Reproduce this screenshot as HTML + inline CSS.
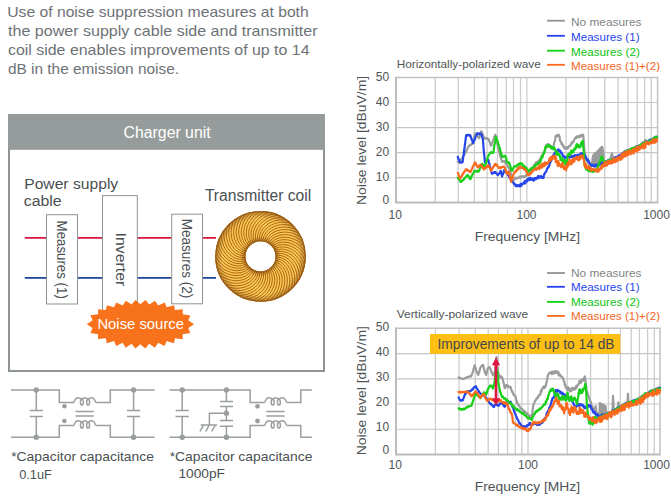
<!DOCTYPE html>
<html><head><meta charset="utf-8"><style>
html,body{margin:0;padding:0;background:#fff;}
body{width:671px;height:504px;overflow:hidden;position:relative;font-family:"Liberation Sans",sans-serif;}
svg text{font-family:"Liberation Sans",sans-serif;}
</style></head><body>
<svg width="671" height="504" viewBox="0 0 671 504" style="position:absolute;left:0;top:0">
<text x="7.3" y="16.8" font-size="15" fill="#6e7276" textLength="301.40000000000003" lengthAdjust="spacingAndGlyphs" >Use of noise suppression measures at both</text>
<text x="8" y="35.8" font-size="15" fill="#6e7276" textLength="309.6" lengthAdjust="spacingAndGlyphs" >the power supply cable side and transmitter</text>
<text x="8" y="54.5" font-size="15" fill="#6e7276" textLength="301.5" lengthAdjust="spacingAndGlyphs" >coil side enables improvements of up to 14</text>
<text x="8" y="73.5" font-size="15" fill="#6e7276" textLength="171" lengthAdjust="spacingAndGlyphs" >dB in the emission noise.</text>
<rect x="9" y="115" width="315" height="256" fill="#fff" stroke="#8f9594" stroke-width="2"/>
<rect x="8" y="114" width="317" height="35.8" fill="#969c9b"/>
<text x="123.6" y="137.5" font-size="16" fill="#ffffff" textLength="87" lengthAdjust="spacingAndGlyphs" >Charger unit</text>
<line x1="24.8" y1="237.9" x2="216" y2="237.9" stroke="#d8163c" stroke-width="1.8"/>
<line x1="24.8" y1="277.9" x2="216" y2="277.9" stroke="#1b449e" stroke-width="1.8"/>
<rect x="46.5" y="214.7" width="31" height="89.3" fill="#fff" stroke="#8e9393" stroke-width="1"/>
<rect x="102.5" y="195.6" width="34.8" height="125" fill="#fff" stroke="#8e9393" stroke-width="1"/>
<rect x="171.7" y="214.2" width="30.8" height="89.6" fill="#fff" stroke="#8e9393" stroke-width="1"/>
<text transform="translate(56.9 220.6) rotate(90)" font-size="14" fill="#4a5052" textLength="78.2" lengthAdjust="spacingAndGlyphs">Measures (1)</text>
<text transform="translate(115.6 232.6) rotate(90)" font-size="15" fill="#4a5052" textLength="53.6" lengthAdjust="spacingAndGlyphs">Inverter</text>
<text transform="translate(182.2 218.7) rotate(90)" font-size="14.5" fill="#4a5052" textLength="79.5" lengthAdjust="spacingAndGlyphs">Measures (2)</text>
<text x="24.2" y="188.5" font-size="15.5" fill="#4a5052" textLength="94" lengthAdjust="spacingAndGlyphs" >Power supply</text>
<text x="23.7" y="205.7" font-size="15.5" fill="#4a5052" textLength="38" lengthAdjust="spacingAndGlyphs" >cable</text>
<text x="204.9" y="200.8" font-size="16" fill="#4a5052" textLength="106.4" lengthAdjust="spacingAndGlyphs" >Transmitter coil</text>
<circle cx="260.5" cy="256.4" r="30.2" fill="none" stroke="#f7ca58" stroke-width="30.199999999999996"/>
<clipPath id="ring"><path d="M215.2,256.4 a45.3,45.3 0 1,0 90.6,0 a45.3,45.3 0 1,0 -90.6,0 Z M245.4,256.4 a15.1,15.1 0 1,1 30.2,0 a15.1,15.1 0 1,1 -30.2,0 Z" clip-rule="evenodd" fill-rule="evenodd"/></clipPath>
<g clip-path="url(#ring)">
<polyline points="274.10,256.40 281.53,257.80 285.21,259.71 287.99,261.97 290.19,264.51 291.90,267.27 293.20,270.23 294.10,273.33 294.63,276.55 294.78,279.85 294.58,283.21 294.02,286.60 293.11,289.97" fill="none" stroke="#b0620e" stroke-width="1.0"/>
<polyline points="274.03,257.82 281.27,259.99 284.73,262.28 287.26,264.82 289.18,267.57 290.60,270.50 291.58,273.57 292.15,276.75 292.33,280.01 292.14,283.31 291.59,286.63 290.68,289.93 289.42,293.20" fill="none" stroke="#b0620e" stroke-width="1.0"/>
<polyline points="273.80,259.23 280.78,262.15 283.98,264.78 286.23,267.57 287.85,270.50 288.96,273.57 289.61,276.72 289.85,279.95 289.69,283.20 289.16,286.47 288.26,289.71 287.00,292.90 285.41,296.02" fill="none" stroke="#b0620e" stroke-width="1.0"/>
<polyline points="273.43,260.60 280.07,264.23 282.98,267.19 284.92,270.20 286.23,273.29 287.01,276.45 287.33,279.65 287.23,282.88 286.73,286.11 285.86,289.30 284.62,292.43 283.04,295.47 281.14,298.40" fill="none" stroke="#b0620e" stroke-width="1.0"/>
<polyline points="272.92,261.93 279.14,266.24 281.72,269.48 283.35,272.67 284.32,275.88 284.77,279.11 284.75,282.33 284.31,285.53 283.48,288.69 282.28,291.77 280.72,294.75 278.84,297.62 276.63,300.33" fill="none" stroke="#b0620e" stroke-width="1.0"/>
<polyline points="272.28,263.20 278.01,268.13 280.24,271.62 281.52,274.97 282.15,278.27 282.26,281.52 281.91,284.72 281.14,287.86 279.98,290.91 278.46,293.85 276.60,296.66 274.43,299.31 271.95,301.78" fill="none" stroke="#b0620e" stroke-width="1.0"/>
<polyline points="271.50,264.39 276.69,269.90 278.54,273.60 279.47,277.07 279.75,280.41 279.52,283.66 278.83,286.81 277.74,289.85 276.27,292.76 274.45,295.52 272.31,298.12 269.87,300.53 267.15,302.73" fill="none" stroke="#b0620e" stroke-width="1.0"/>
<polyline points="270.61,265.50 275.19,271.51 276.64,275.40 277.20,278.94 277.13,282.29 276.56,285.49 275.55,288.56 274.14,291.47 272.38,294.21 270.28,296.77 267.88,299.13 265.20,301.27 262.27,303.17" fill="none" stroke="#b0620e" stroke-width="1.0"/>
<polyline points="269.60,266.51 273.53,272.97 274.57,276.98 274.75,280.56 274.34,283.89 273.43,287.01 272.11,289.95 270.40,292.70 268.36,295.24 266.01,297.57 263.38,299.66 260.49,301.51 257.37,303.10" fill="none" stroke="#b0620e" stroke-width="1.0"/>
<polyline points="268.49,267.40 271.72,274.24 272.34,278.34 272.15,281.92 271.39,285.18 270.16,288.20 268.54,290.98 266.56,293.54 264.26,295.85 261.68,297.92 258.84,299.73 255.77,301.26 252.50,302.51" fill="none" stroke="#b0620e" stroke-width="1.0"/>
<polyline points="267.30,268.18 269.80,275.31 269.98,279.46 269.42,283.00 268.32,286.16 266.79,289.03 264.88,291.63 262.64,293.97 260.11,296.03 257.33,297.82 254.32,299.32 251.11,300.52 247.73,301.42" fill="none" stroke="#b0620e" stroke-width="1.0"/>
<polyline points="266.03,268.82 267.77,276.18 267.52,280.32 266.59,283.78 265.17,286.82 263.34,289.51 261.17,291.90 258.70,293.98 255.97,295.77 253.02,297.26 249.87,298.44 246.55,299.30 243.09,299.84" fill="none" stroke="#b0620e" stroke-width="1.0"/>
<polyline points="264.70,269.33 265.66,276.83 264.98,280.92 263.70,284.27 261.96,287.14 259.86,289.63 257.46,291.77 254.78,293.59 251.88,295.08 248.79,296.25 245.53,297.09 242.14,297.61 238.65,297.78" fill="none" stroke="#b0620e" stroke-width="1.0"/>
<polyline points="263.33,269.70 263.50,277.26 262.40,281.26 260.76,284.45 258.74,287.12 256.39,289.38 253.78,291.26 250.93,292.79 247.89,293.97 244.69,294.81 241.36,295.31 237.93,295.46 234.44,295.27" fill="none" stroke="#b0620e" stroke-width="1.0"/>
<polyline points="261.92,269.93 261.30,277.46 259.79,281.32 257.83,284.32 255.54,286.77 252.97,288.77 250.17,290.37 247.18,291.59 244.03,292.45 240.76,292.95 237.40,293.09 233.97,292.89 230.52,292.34" fill="none" stroke="#b0620e" stroke-width="1.0"/>
<polyline points="260.50,270.00 259.10,277.43 257.19,281.11 254.93,283.89 252.39,286.09 249.63,287.80 246.67,289.10 243.57,290.00 240.35,290.53 237.05,290.68 233.69,290.48 230.30,289.92 226.93,289.01" fill="none" stroke="#b0620e" stroke-width="1.0"/>
<polyline points="259.08,269.93 256.91,277.17 254.62,280.63 252.08,283.16 249.33,285.08 246.40,286.50 243.33,287.48 240.15,288.05 236.89,288.23 233.59,288.04 230.27,287.49 226.97,286.58 223.70,285.32" fill="none" stroke="#b0620e" stroke-width="1.0"/>
<polyline points="257.67,269.70 254.75,276.68 252.12,279.88 249.33,282.13 246.40,283.75 243.33,284.86 240.18,285.51 236.95,285.75 233.70,285.59 230.43,285.06 227.19,284.16 224.00,282.90 220.88,281.31" fill="none" stroke="#b0620e" stroke-width="1.0"/>
<polyline points="256.30,269.33 252.67,275.97 249.71,278.88 246.70,280.82 243.61,282.13 240.45,282.91 237.25,283.23 234.02,283.13 230.79,282.63 227.60,281.76 224.47,280.52 221.43,278.94 218.50,277.04" fill="none" stroke="#b0620e" stroke-width="1.0"/>
<polyline points="254.97,268.82 250.66,275.04 247.42,277.62 244.23,279.25 241.02,280.22 237.79,280.67 234.57,280.65 231.37,280.21 228.21,279.38 225.13,278.18 222.15,276.62 219.28,274.74 216.57,272.53" fill="none" stroke="#b0620e" stroke-width="1.0"/>
<polyline points="253.70,268.18 248.77,273.91 245.28,276.14 241.93,277.42 238.63,278.05 235.38,278.16 232.18,277.81 229.04,277.04 225.99,275.88 223.05,274.36 220.24,272.50 217.59,270.33 215.12,267.85" fill="none" stroke="#b0620e" stroke-width="1.0"/>
<polyline points="252.51,267.40 247.00,272.59 243.30,274.44 239.83,275.37 236.49,275.65 233.24,275.42 230.09,274.73 227.05,273.64 224.14,272.17 221.38,270.35 218.78,268.21 216.37,265.77 214.17,263.05" fill="none" stroke="#b0620e" stroke-width="1.0"/>
<polyline points="251.40,266.51 245.39,271.09 241.50,272.54 237.96,273.10 234.61,273.03 231.41,272.46 228.34,271.45 225.43,270.04 222.69,268.28 220.13,266.18 217.77,263.78 215.63,261.10 213.73,258.17" fill="none" stroke="#b0620e" stroke-width="1.0"/>
<polyline points="250.39,265.50 243.93,269.43 239.92,270.47 236.34,270.65 233.01,270.24 229.89,269.33 226.95,268.01 224.20,266.30 221.66,264.26 219.33,261.91 217.24,259.28 215.39,256.39 213.80,253.27" fill="none" stroke="#b0620e" stroke-width="1.0"/>
<polyline points="249.50,264.39 242.66,267.62 238.56,268.24 234.98,268.05 231.72,267.29 228.70,266.06 225.92,264.44 223.36,262.46 221.05,260.16 218.98,257.58 217.17,254.74 215.64,251.67 214.39,248.40" fill="none" stroke="#b0620e" stroke-width="1.0"/>
<polyline points="248.72,263.20 241.59,265.70 237.44,265.88 233.90,265.32 230.74,264.22 227.87,262.69 225.27,260.78 222.93,258.54 220.87,256.01 219.08,253.23 217.58,250.22 216.38,247.01 215.48,243.63" fill="none" stroke="#b0620e" stroke-width="1.0"/>
<polyline points="248.08,261.93 240.72,263.67 236.58,263.42 233.12,262.49 230.08,261.07 227.39,259.24 225.00,257.07 222.92,254.60 221.13,251.87 219.64,248.92 218.46,245.77 217.60,242.45 217.06,238.99" fill="none" stroke="#b0620e" stroke-width="1.0"/>
<polyline points="247.57,260.60 240.07,261.56 235.98,260.88 232.63,259.60 229.76,257.86 227.27,255.76 225.13,253.36 223.31,250.68 221.82,247.78 220.65,244.69 219.81,241.43 219.29,238.04 219.12,234.55" fill="none" stroke="#b0620e" stroke-width="1.0"/>
<polyline points="247.20,259.23 239.64,259.40 235.64,258.30 232.45,256.66 229.78,254.64 227.52,252.29 225.64,249.68 224.11,246.83 222.93,243.79 222.09,240.59 221.59,237.26 221.44,233.83 221.63,230.34" fill="none" stroke="#b0620e" stroke-width="1.0"/>
<polyline points="246.97,257.82 239.44,257.20 235.58,255.69 232.58,253.73 230.13,251.44 228.13,248.87 226.53,246.07 225.31,243.08 224.45,239.93 223.95,236.66 223.81,233.30 224.01,229.87 224.56,226.42" fill="none" stroke="#b0620e" stroke-width="1.0"/>
<polyline points="246.90,256.40 239.47,255.00 235.79,253.09 233.01,250.83 230.81,248.29 229.10,245.53 227.80,242.57 226.90,239.47 226.37,236.25 226.22,232.95 226.42,229.59 226.98,226.20 227.89,222.83" fill="none" stroke="#b0620e" stroke-width="1.0"/>
<polyline points="246.97,254.98 239.73,252.81 236.27,250.52 233.74,247.98 231.82,245.23 230.40,242.30 229.42,239.23 228.85,236.05 228.67,232.79 228.86,229.49 229.41,226.17 230.32,222.87 231.58,219.60" fill="none" stroke="#b0620e" stroke-width="1.0"/>
<polyline points="247.20,253.57 240.22,250.65 237.02,248.02 234.77,245.23 233.15,242.30 232.04,239.23 231.39,236.08 231.15,232.85 231.31,229.60 231.84,226.33 232.74,223.09 234.00,219.90 235.59,216.78" fill="none" stroke="#b0620e" stroke-width="1.0"/>
<polyline points="247.57,252.20 240.93,248.57 238.02,245.61 236.08,242.60 234.77,239.51 233.99,236.35 233.67,233.15 233.77,229.92 234.27,226.69 235.14,223.50 236.38,220.37 237.96,217.33 239.86,214.40" fill="none" stroke="#b0620e" stroke-width="1.0"/>
<polyline points="248.08,250.87 241.86,246.56 239.28,243.32 237.65,240.13 236.68,236.92 236.23,233.69 236.25,230.47 236.69,227.27 237.52,224.11 238.72,221.03 240.28,218.05 242.16,215.18 244.37,212.47" fill="none" stroke="#b0620e" stroke-width="1.0"/>
<polyline points="248.72,249.60 242.99,244.67 240.76,241.18 239.48,237.83 238.85,234.53 238.74,231.28 239.09,228.08 239.86,224.94 241.02,221.89 242.54,218.95 244.40,216.14 246.57,213.49 249.05,211.02" fill="none" stroke="#b0620e" stroke-width="1.0"/>
<polyline points="249.50,248.41 244.31,242.90 242.46,239.20 241.53,235.73 241.25,232.39 241.48,229.14 242.17,225.99 243.26,222.95 244.73,220.04 246.55,217.28 248.69,214.68 251.13,212.27 253.85,210.07" fill="none" stroke="#b0620e" stroke-width="1.0"/>
<polyline points="250.39,247.30 245.81,241.29 244.36,237.40 243.80,233.86 243.87,230.51 244.44,227.31 245.45,224.24 246.86,221.33 248.62,218.59 250.72,216.03 253.12,213.67 255.80,211.53 258.73,209.63" fill="none" stroke="#b0620e" stroke-width="1.0"/>
<polyline points="251.40,246.29 247.47,239.83 246.43,235.82 246.25,232.24 246.66,228.91 247.57,225.79 248.89,222.85 250.60,220.10 252.64,217.56 254.99,215.23 257.62,213.14 260.51,211.29 263.63,209.70" fill="none" stroke="#b0620e" stroke-width="1.0"/>
<polyline points="252.51,245.40 249.28,238.56 248.66,234.46 248.85,230.88 249.61,227.62 250.84,224.60 252.46,221.82 254.44,219.26 256.74,216.95 259.32,214.88 262.16,213.07 265.23,211.54 268.50,210.29" fill="none" stroke="#b0620e" stroke-width="1.0"/>
<polyline points="253.70,244.62 251.20,237.49 251.02,233.34 251.58,229.80 252.68,226.64 254.21,223.77 256.12,221.17 258.36,218.83 260.89,216.77 263.67,214.98 266.68,213.48 269.89,212.28 273.27,211.38" fill="none" stroke="#b0620e" stroke-width="1.0"/>
<polyline points="254.97,243.98 253.23,236.62 253.48,232.48 254.41,229.02 255.83,225.98 257.66,223.29 259.83,220.90 262.30,218.82 265.03,217.03 267.98,215.54 271.13,214.36 274.45,213.50 277.91,212.96" fill="none" stroke="#b0620e" stroke-width="1.0"/>
<polyline points="256.30,243.47 255.34,235.97 256.02,231.88 257.30,228.53 259.04,225.66 261.14,223.17 263.54,221.03 266.22,219.21 269.12,217.72 272.21,216.55 275.47,215.71 278.86,215.19 282.35,215.02" fill="none" stroke="#b0620e" stroke-width="1.0"/>
<polyline points="257.67,243.10 257.50,235.54 258.60,231.54 260.24,228.35 262.26,225.68 264.61,223.42 267.22,221.54 270.07,220.01 273.11,218.83 276.31,217.99 279.64,217.49 283.07,217.34 286.56,217.53" fill="none" stroke="#b0620e" stroke-width="1.0"/>
<polyline points="259.08,242.87 259.70,235.34 261.21,231.48 263.17,228.48 265.46,226.03 268.03,224.03 270.83,222.43 273.82,221.21 276.97,220.35 280.24,219.85 283.60,219.71 287.03,219.91 290.48,220.46" fill="none" stroke="#b0620e" stroke-width="1.0"/>
<polyline points="260.50,242.80 261.90,235.37 263.81,231.69 266.07,228.91 268.61,226.71 271.37,225.00 274.33,223.70 277.43,222.80 280.65,222.27 283.95,222.12 287.31,222.32 290.70,222.88 294.07,223.79" fill="none" stroke="#b0620e" stroke-width="1.0"/>
<polyline points="261.92,242.87 264.09,235.63 266.38,232.17 268.92,229.64 271.67,227.72 274.60,226.30 277.67,225.32 280.85,224.75 284.11,224.57 287.41,224.76 290.73,225.31 294.03,226.22 297.30,227.48" fill="none" stroke="#b0620e" stroke-width="1.0"/>
<polyline points="263.33,243.10 266.25,236.12 268.88,232.92 271.67,230.67 274.60,229.05 277.67,227.94 280.82,227.29 284.05,227.05 287.30,227.21 290.57,227.74 293.81,228.64 297.00,229.90 300.12,231.49" fill="none" stroke="#b0620e" stroke-width="1.0"/>
<polyline points="264.70,243.47 268.33,236.83 271.29,233.92 274.30,231.98 277.39,230.67 280.55,229.89 283.75,229.57 286.98,229.67 290.21,230.17 293.40,231.04 296.53,232.28 299.57,233.86 302.50,235.76" fill="none" stroke="#b0620e" stroke-width="1.0"/>
<polyline points="266.03,243.98 270.34,237.76 273.58,235.18 276.77,233.55 279.98,232.58 283.21,232.13 286.43,232.15 289.63,232.59 292.79,233.42 295.87,234.62 298.85,236.18 301.72,238.06 304.43,240.27" fill="none" stroke="#b0620e" stroke-width="1.0"/>
<polyline points="267.30,244.62 272.23,238.89 275.72,236.66 279.07,235.38 282.37,234.75 285.62,234.64 288.82,234.99 291.96,235.76 295.01,236.92 297.95,238.44 300.76,240.30 303.41,242.47 305.88,244.95" fill="none" stroke="#b0620e" stroke-width="1.0"/>
<polyline points="268.49,245.40 274.00,240.21 277.70,238.36 281.17,237.43 284.51,237.15 287.76,237.38 290.91,238.07 293.95,239.16 296.86,240.63 299.62,242.45 302.22,244.59 304.63,247.03 306.83,249.75" fill="none" stroke="#b0620e" stroke-width="1.0"/>
<polyline points="269.60,246.29 275.61,241.71 279.50,240.26 283.04,239.70 286.39,239.77 289.59,240.34 292.66,241.35 295.57,242.76 298.31,244.52 300.87,246.62 303.23,249.02 305.37,251.70 307.27,254.63" fill="none" stroke="#b0620e" stroke-width="1.0"/>
<polyline points="270.61,247.30 277.07,243.37 281.08,242.33 284.66,242.15 287.99,242.56 291.11,243.47 294.05,244.79 296.80,246.50 299.34,248.54 301.67,250.89 303.76,253.52 305.61,256.41 307.20,259.53" fill="none" stroke="#b0620e" stroke-width="1.0"/>
<polyline points="271.50,248.41 278.34,245.18 282.44,244.56 286.02,244.75 289.28,245.51 292.30,246.74 295.08,248.36 297.64,250.34 299.95,252.64 302.02,255.22 303.83,258.06 305.36,261.13 306.61,264.40" fill="none" stroke="#b0620e" stroke-width="1.0"/>
<polyline points="272.28,249.60 279.41,247.10 283.56,246.92 287.10,247.48 290.26,248.58 293.13,250.11 295.73,252.02 298.07,254.26 300.13,256.79 301.92,259.57 303.42,262.58 304.62,265.79 305.52,269.17" fill="none" stroke="#b0620e" stroke-width="1.0"/>
<polyline points="272.92,250.87 280.28,249.13 284.42,249.38 287.88,250.31 290.92,251.73 293.61,253.56 296.00,255.73 298.08,258.20 299.87,260.93 301.36,263.88 302.54,267.03 303.40,270.35 303.94,273.81" fill="none" stroke="#b0620e" stroke-width="1.0"/>
<polyline points="273.43,252.20 280.93,251.24 285.02,251.92 288.37,253.20 291.24,254.94 293.73,257.04 295.87,259.44 297.69,262.12 299.18,265.02 300.35,268.11 301.19,271.37 301.71,274.76 301.88,278.25" fill="none" stroke="#b0620e" stroke-width="1.0"/>
<polyline points="273.80,253.57 281.36,253.40 285.36,254.50 288.55,256.14 291.22,258.16 293.48,260.51 295.36,263.12 296.89,265.97 298.07,269.01 298.91,272.21 299.41,275.54 299.56,278.97 299.37,282.46" fill="none" stroke="#b0620e" stroke-width="1.0"/>
<polyline points="274.03,254.98 281.56,255.60 285.42,257.11 288.42,259.07 290.87,261.36 292.87,263.93 294.47,266.73 295.69,269.72 296.55,272.87 297.05,276.14 297.19,279.50 296.99,282.93 296.44,286.38" fill="none" stroke="#b0620e" stroke-width="1.0"/>
</g>
<radialGradient id="shade" cx="260.5" cy="256.4" r="45.3" gradientUnits="userSpaceOnUse"><stop offset="0.333" stop-color="#7a4410" stop-opacity="0.55"/><stop offset="0.444" stop-color="#7a4410" stop-opacity="0"/><stop offset="0.845" stop-color="#7a4410" stop-opacity="0"/><stop offset="1" stop-color="#7a4410" stop-opacity="0.5"/></radialGradient>
<circle cx="260.5" cy="256.4" r="30.2" fill="none" stroke="url(#shade)" stroke-width="30.199999999999996"/>
<circle cx="260.5" cy="256.4" r="44.699999999999996" fill="none" stroke="#9c5e18" stroke-width="1.2"/>
<circle cx="260.5" cy="256.4" r="15.7" fill="none" stroke="#9c5e18" stroke-width="1.2"/>
<path d="M86.80,324.20 L92.54,320.30 L90.44,315.36 L98.13,314.21 L98.05,309.25 L105.78,310.10 L106.89,305.16 L114.12,307.35 L116.22,302.42 L122.72,305.56 L125.85,300.72 L131.56,304.53 L135.52,299.90 L140.40,304.20 L145.36,299.90 L149.32,304.54 L155.03,300.73 L158.15,305.57 L164.66,302.44 L166.74,307.36 L173.98,305.18 L175.07,310.12 L182.80,309.28 L182.71,314.24 L190.39,315.40 L188.28,320.33 L194.00,324.20 L188.26,328.10 L190.36,333.04 L182.67,334.19 L182.75,339.15 L175.02,338.30 L173.91,343.24 L166.68,341.05 L164.58,345.98 L158.08,342.84 L154.95,347.68 L149.24,343.87 L145.28,348.50 L140.40,344.20 L135.44,348.50 L131.48,343.86 L125.77,347.67 L122.65,342.83 L116.14,345.96 L114.06,341.04 L106.82,343.22 L105.73,338.28 L98.00,339.12 L98.09,334.16 L90.41,333.00 L92.52,328.07Z" fill="#f8721b"/>
<text x="97.4" y="328.5" font-size="14.3" fill="#ffffff" textLength="86.6" lengthAdjust="spacingAndGlyphs" >Noise source</text>
<path d="M11.0,390 H59.3 V402.4 H74" stroke="#9b9e9e" stroke-width="1.5" fill="none"/>
<path d="M95.8,402.4 H110.3 V390 H154.6" stroke="#9b9e9e" stroke-width="1.5" fill="none"/>
<path d="M11,437.3 H59.3 V425.4 H74" stroke="#9b9e9e" stroke-width="1.5" fill="none"/>
<path d="M95.8,425.4 H110.3 V437.3 H154.6" stroke="#9b9e9e" stroke-width="1.5" fill="none"/>
<path d="M74,402.4 C75,398.9 76.5,397.79999999999995 78.2,397.79999999999995 C80.2,397.79999999999995 81.6,398.79999999999995 82.2,400.0 M81.4,400.0 C82.2,398.4 83.2,397.79999999999995 84.8,397.79999999999995 C86.4,397.79999999999995 87.6,398.79999999999995 88.4,400.0 M87.6,400.0 C88.4,398.4 89.6,397.79999999999995 91.4,397.79999999999995 C93.6,397.79999999999995 94.8,399.4 95.8,402.4" stroke="#9b9e9e" stroke-width="1.5" fill="none"/>
<ellipse cx="81.9" cy="402.2" rx="1.45" ry="2.9" stroke="#9b9e9e" stroke-width="1.5" fill="none" stroke-width="1.3"/>
<ellipse cx="88.1" cy="402.2" rx="1.45" ry="2.9" stroke="#9b9e9e" stroke-width="1.5" fill="none" stroke-width="1.3"/>
<path d="M74,425.4 C75,421.9 76.5,420.79999999999995 78.2,420.79999999999995 C80.2,420.79999999999995 81.6,421.79999999999995 82.2,423.0 M81.4,423.0 C82.2,421.4 83.2,420.79999999999995 84.8,420.79999999999995 C86.4,420.79999999999995 87.6,421.79999999999995 88.4,423.0 M87.6,423.0 C88.4,421.4 89.6,420.79999999999995 91.4,420.79999999999995 C93.6,420.79999999999995 94.8,422.4 95.8,425.4" stroke="#9b9e9e" stroke-width="1.5" fill="none"/>
<ellipse cx="81.9" cy="425.2" rx="1.45" ry="2.9" stroke="#9b9e9e" stroke-width="1.5" fill="none" stroke-width="1.3"/>
<ellipse cx="88.1" cy="425.2" rx="1.45" ry="2.9" stroke="#9b9e9e" stroke-width="1.5" fill="none" stroke-width="1.3"/>
<path d="M75.5,411.4 H93.8 M75.5,416 H93.8" stroke="#9b9e9e" stroke-width="1.5" fill="none"/>
<circle cx="64.4" cy="406.3" r="2.3" fill="#9b9e9e"/>
<circle cx="64.4" cy="421" r="2.3" fill="#9b9e9e"/>
<path d="M36.3,390 V410.5 M29.699999999999996,410.5 H42.9 M29.699999999999996,416.5 H42.9 M36.3,416.5 V437.3" stroke="#9b9e9e" stroke-width="1.5" fill="none"/>
<path d="M133.6,390 V410.5 M127.0,410.5 H140.2 M127.0,416.5 H140.2 M133.6,416.5 V437.3" stroke="#9b9e9e" stroke-width="1.5" fill="none"/>
<circle cx="36.3" cy="390" r="2.7" fill="#9b9e9e"/>
<circle cx="36.3" cy="437.3" r="2.7" fill="#9b9e9e"/>
<circle cx="133.6" cy="390" r="2.7" fill="#9b9e9e"/>
<circle cx="133.6" cy="437.3" r="2.7" fill="#9b9e9e"/>
<path d="M169.5,390 H250.1 V402.4 H264.8" stroke="#9b9e9e" stroke-width="1.5" fill="none"/>
<path d="M169.5,437.3 H250.1 V425.4 H264.8" stroke="#9b9e9e" stroke-width="1.5" fill="none"/>
<path d="M286.6,402.4 H300.8 V390 H311.8" stroke="#9b9e9e" stroke-width="1.5" fill="none"/>
<path d="M286.6,425.4 H300.8 V437.3 H311.8" stroke="#9b9e9e" stroke-width="1.5" fill="none"/>
<path d="M264.8,402.4 C265.8,398.9 267.3,397.79999999999995 269.0,397.79999999999995 C271.0,397.79999999999995 272.40000000000003,398.79999999999995 273.0,400.0 M272.2,400.0 C273.0,398.4 274.0,397.79999999999995 275.6,397.79999999999995 C277.2,397.79999999999995 278.40000000000003,398.79999999999995 279.2,400.0 M278.40000000000003,400.0 C279.2,398.4 280.40000000000003,397.79999999999995 282.2,397.79999999999995 C284.40000000000003,397.79999999999995 285.6,399.4 286.6,402.4" stroke="#9b9e9e" stroke-width="1.5" fill="none"/>
<ellipse cx="272.7" cy="402.2" rx="1.45" ry="2.9" stroke="#9b9e9e" stroke-width="1.5" fill="none" stroke-width="1.3"/>
<ellipse cx="278.90000000000003" cy="402.2" rx="1.45" ry="2.9" stroke="#9b9e9e" stroke-width="1.5" fill="none" stroke-width="1.3"/>
<path d="M264.8,425.4 C265.8,421.9 267.3,420.79999999999995 269.0,420.79999999999995 C271.0,420.79999999999995 272.40000000000003,421.79999999999995 273.0,423.0 M272.2,423.0 C273.0,421.4 274.0,420.79999999999995 275.6,420.79999999999995 C277.2,420.79999999999995 278.40000000000003,421.79999999999995 279.2,423.0 M278.40000000000003,423.0 C279.2,421.4 280.40000000000003,420.79999999999995 282.2,420.79999999999995 C284.40000000000003,420.79999999999995 285.6,422.4 286.6,425.4" stroke="#9b9e9e" stroke-width="1.5" fill="none"/>
<ellipse cx="272.7" cy="425.2" rx="1.45" ry="2.9" stroke="#9b9e9e" stroke-width="1.5" fill="none" stroke-width="1.3"/>
<ellipse cx="278.90000000000003" cy="425.2" rx="1.45" ry="2.9" stroke="#9b9e9e" stroke-width="1.5" fill="none" stroke-width="1.3"/>
<path d="M266.3,411.4 H284.6 M266.3,416 H284.6" stroke="#9b9e9e" stroke-width="1.5" fill="none"/>
<circle cx="257.5" cy="406.3" r="2.4" fill="#9b9e9e"/>
<circle cx="257.5" cy="421" r="2.4" fill="#9b9e9e"/>
<path d="M182.2,390 V410.5 M175.6,410.5 H188.79999999999998 M175.6,416.5 H188.79999999999998 M182.2,416.5 V437.3" stroke="#9b9e9e" stroke-width="1.5" fill="none"/>
<path d="M226.4,390 V401.4 M220,401.4 H233 M220,406.5 H233 M226.4,406.5 V420.6 M220,420.6 H233 M220,426.2 H233 M226.4,426.2 V437.3" stroke="#9b9e9e" stroke-width="1.5" fill="none"/>
<path d="M226.4,413.2 H209.4 V425.1 M200.7,425.1 H217.1" stroke="#9b9e9e" stroke-width="1.5" fill="none"/>
<line x1="203.6" y1="425.1" x2="200" y2="431.3" stroke="#9b9e9e" stroke-width="1.5" fill="none"/>
<line x1="209.2" y1="425.1" x2="205.8" y2="431.3" stroke="#9b9e9e" stroke-width="1.5" fill="none"/>
<line x1="215.4" y1="425.1" x2="211.5" y2="431.3" stroke="#9b9e9e" stroke-width="1.5" fill="none"/>
<circle cx="182.2" cy="390" r="2.7" fill="#9b9e9e"/>
<circle cx="182.2" cy="437.3" r="2.7" fill="#9b9e9e"/>
<circle cx="226.4" cy="390" r="2.7" fill="#9b9e9e"/>
<circle cx="226.4" cy="437.3" r="2.7" fill="#9b9e9e"/>
<circle cx="226.4" cy="413.2" r="2.7" fill="#9b9e9e"/>
<text x="11.2" y="461.1" font-size="13.5" fill="#4a5052" textLength="142.8" lengthAdjust="spacingAndGlyphs" >*Capacitor capacitance</text>
<text x="19.2" y="478.6" font-size="13.5" fill="#4a5052" textLength="32.6" lengthAdjust="spacingAndGlyphs" >0.1uF</text>
<text x="169.7" y="461.1" font-size="13.5" fill="#4a5052" textLength="142.8" lengthAdjust="spacingAndGlyphs" >*Capacitor capacitance</text>
<text x="178.4" y="477.9" font-size="13.5" fill="#4a5052" textLength="46.6" lengthAdjust="spacingAndGlyphs" >1000pF</text>
<line x1="435.20" y1="77.5" x2="435.20" y2="202.6" stroke="#cdcdcd" stroke-width="1.3"/>
<line x1="458.30" y1="77.5" x2="458.30" y2="202.6" stroke="#cdcdcd" stroke-width="1.3"/>
<line x1="474.40" y1="77.5" x2="474.40" y2="202.6" stroke="#cdcdcd" stroke-width="1.3"/>
<line x1="487.10" y1="77.5" x2="487.10" y2="202.6" stroke="#cdcdcd" stroke-width="1.3"/>
<line x1="497.40" y1="77.5" x2="497.40" y2="202.6" stroke="#cdcdcd" stroke-width="1.3"/>
<line x1="506.30" y1="77.5" x2="506.30" y2="202.6" stroke="#cdcdcd" stroke-width="1.3"/>
<line x1="513.50" y1="77.5" x2="513.50" y2="202.6" stroke="#cdcdcd" stroke-width="1.3"/>
<line x1="520.50" y1="77.5" x2="520.50" y2="202.6" stroke="#cdcdcd" stroke-width="1.3"/>
<line x1="526.90" y1="77.5" x2="526.90" y2="202.6" stroke="#cdcdcd" stroke-width="1.3"/>
<line x1="566.00" y1="77.5" x2="566.00" y2="202.6" stroke="#cdcdcd" stroke-width="1.3"/>
<line x1="588.40" y1="77.5" x2="588.40" y2="202.6" stroke="#cdcdcd" stroke-width="1.3"/>
<line x1="604.80" y1="77.5" x2="604.80" y2="202.6" stroke="#cdcdcd" stroke-width="1.3"/>
<line x1="618.10" y1="77.5" x2="618.10" y2="202.6" stroke="#cdcdcd" stroke-width="1.3"/>
<line x1="627.90" y1="77.5" x2="627.90" y2="202.6" stroke="#cdcdcd" stroke-width="1.3"/>
<line x1="637.20" y1="77.5" x2="637.20" y2="202.6" stroke="#cdcdcd" stroke-width="1.3"/>
<line x1="644.60" y1="77.5" x2="644.60" y2="202.6" stroke="#cdcdcd" stroke-width="1.3"/>
<line x1="651.20" y1="77.5" x2="651.20" y2="202.6" stroke="#cdcdcd" stroke-width="1.3"/>
<line x1="396" y1="102.52" x2="657.6" y2="102.52" stroke="#c5c5c5" stroke-width="1.2"/>
<line x1="396" y1="127.54" x2="657.6" y2="127.54" stroke="#c5c5c5" stroke-width="1.2"/>
<line x1="396" y1="152.56" x2="657.6" y2="152.56" stroke="#c5c5c5" stroke-width="1.2"/>
<line x1="396" y1="177.58" x2="657.6" y2="177.58" stroke="#c5c5c5" stroke-width="1.2"/>
<path d="M396,77.5 H657.6 V202.6" fill="none" stroke="#c2c2c2" stroke-width="1.5"/>
<path d="M396,76.75 V202.6 H658.35" fill="none" stroke="#bcbcbc" stroke-width="2"/>
<polygon points="592.0,166.0 592.6,156.0 596.0,153.5 599.0,151.0 602.3,147.2 603.5,151.0 604.3,166.0" fill="#9a9c9c"/>
<polyline points="457.8,161.8 458.3,162.3 458.7,162.5 459.2,162.5 459.6,162.0 459.9,161.6 460.3,161.2 460.7,160.4 461.0,159.3 461.4,159.1 461.8,158.4 462.1,158.4 462.5,157.8 462.9,157.0 463.2,156.4 463.6,155.7 464.0,155.5 464.3,154.6 464.7,154.2 465.1,153.1 465.5,152.4 465.8,152.2 466.2,151.1 466.6,150.7 467.0,149.8 467.4,148.7 467.8,147.8 468.1,147.3 468.5,146.8 468.9,145.8 469.2,146.0 469.6,145.7 469.9,144.8 470.3,145.0 470.6,144.7 471.0,144.9 471.3,144.2 471.7,144.2 472.0,143.6 472.4,143.8 472.8,142.2 473.2,141.2 473.6,139.6 473.9,137.5 474.3,136.6 474.7,134.7 475.1,133.3 475.5,134.1 475.9,134.1 476.2,134.9 476.6,134.7 477.0,135.2 477.4,136.4 477.8,136.5 478.2,137.0 478.5,137.1 478.9,138.0 479.3,138.2 479.7,136.5 480.1,135.5 480.6,133.6 481.0,132.4 481.4,131.2 481.8,132.4 482.1,132.9 482.4,133.5 482.8,134.7 483.1,135.6 483.5,136.3 483.8,137.4 484.2,138.2 484.6,138.6 484.9,138.0 485.3,138.6 485.7,138.1 486.1,138.3 486.4,138.2 486.8,138.5 487.2,138.8 487.6,138.7 487.9,139.1 488.3,138.9 488.7,139.6 489.0,140.9 489.4,141.5 489.7,142.0 490.1,142.9 490.4,144.5 490.8,144.8 491.1,145.8 491.5,144.7 491.9,143.8 492.2,143.1 492.6,142.1 493.0,140.4 493.4,140.1 493.8,138.7 494.2,138.0 494.5,136.9 494.9,136.0 495.3,134.7 495.7,136.2 496.0,137.7 496.4,139.6 496.8,141.2 497.2,143.3 497.5,144.5 497.9,146.3 498.3,148.1 498.7,149.3 499.0,151.3 499.4,152.8 499.8,153.8 500.1,155.4 500.4,156.5 500.8,157.0 501.1,158.7 501.5,159.9 501.8,160.7 502.2,161.8 502.6,161.8 502.9,161.8 503.2,161.3 503.6,161.1 503.9,161.3 504.3,160.9 504.6,161.0 505.0,161.1 505.6,163.9 506.0,164.2 506.4,163.8 506.8,164.9 507.1,165.7 507.5,165.7 507.9,166.8 508.3,166.7 508.7,167.3 509.0,168.3 509.4,169.3 509.7,171.1 510.1,172.1 510.4,172.7 510.8,173.7 511.1,175.0 511.5,175.6 511.9,176.4 512.3,176.5 512.7,177.0 513.1,177.5 513.5,178.0 513.9,179.2 514.2,179.9 514.6,179.1 515.0,178.5 515.3,178.0 515.6,178.3 516.0,177.6 516.4,178.5 516.7,177.8 517.1,178.3 517.4,178.2 517.8,177.9 518.2,177.6 518.6,178.1 518.9,177.5 519.3,177.2 519.7,176.6 520.1,177.0 520.4,176.5 520.8,177.1 521.1,177.5 521.5,176.9 521.8,176.8 522.2,176.5 522.5,176.1 522.9,176.5 523.2,177.1 523.6,176.3 524.0,177.0 524.3,177.1 524.6,176.3 525.0,176.4 525.4,175.9 525.8,176.1 526.2,174.7 526.6,175.1 527.0,175.1 527.4,174.1 527.8,174.3 528.1,173.0 528.5,173.2 528.9,173.5 529.2,172.0 529.5,172.7 529.9,172.5 530.2,171.1 530.6,170.8 531.0,170.7 531.4,169.2 531.8,169.0 532.1,169.0 532.5,167.6 532.9,167.4 533.3,166.7 533.6,166.5 534.0,165.5 534.4,164.8 534.7,165.0 535.0,164.3 535.4,163.8 535.8,162.5 536.1,162.5 536.5,162.4 536.9,162.2 537.3,162.5 537.7,162.6 538.1,161.1 538.5,162.1 538.9,161.1 539.3,160.2 539.6,160.7 540.0,159.2 540.4,158.6 540.7,158.6 541.1,156.7 541.5,156.4 541.8,156.3 542.2,155.1 542.5,155.1 542.9,154.3 543.3,153.8 543.6,152.7 544.0,152.8 544.4,150.9 544.7,150.4 545.1,149.7 545.5,147.9 545.8,148.6 546.2,147.7 546.5,144.9 546.9,144.8 547.3,145.2 547.6,144.1 548.0,144.3 548.4,145.0 548.8,144.4 549.1,145.4 549.5,145.2 549.9,145.8 550.3,145.3 550.6,145.7 551.0,146.8 551.4,147.4 551.8,147.6 552.1,147.7 552.5,148.2 552.9,149.3 553.3,147.0 553.6,146.1 554.0,143.4 554.4,142.3 554.8,141.4 555.1,140.0 555.5,136.6 555.9,135.9 556.3,136.5 556.6,136.2 557.0,136.3 557.3,134.9 557.7,136.2 558.1,136.1 558.4,134.8 558.8,134.9 559.2,135.7 559.6,136.9 560.0,140.1 560.4,141.3 560.8,141.9 561.2,142.0 561.5,144.2 561.9,143.2 562.3,144.5 562.7,145.5 563.0,145.1 563.4,146.1 563.8,147.3 564.2,147.6 564.5,148.5 564.9,147.0 565.3,147.6 565.7,148.7 566.0,148.5 566.4,148.8 566.8,148.8 567.2,148.2 567.5,147.1 567.9,148.2 568.3,148.2 568.7,147.0 569.0,146.3 569.4,145.8 569.8,145.8 570.2,145.9 570.5,145.2 570.9,144.2 571.2,144.7 571.6,142.4 572.0,142.6 572.3,142.9 572.7,141.9 573.1,142.3 573.5,141.0 573.8,141.2 574.2,139.6 574.6,139.1 575.0,138.3 575.3,138.2 575.7,137.4 576.1,138.0 576.4,137.0 576.8,136.4 577.2,137.5 577.5,136.7 577.9,137.3 578.2,136.0 578.6,136.3 579.0,136.0 579.3,137.0 579.7,135.9 580.1,136.8 580.4,136.3 580.8,136.5 581.1,134.9 581.5,135.4 581.8,135.0 582.2,136.0 582.5,135.9 582.9,134.5 583.2,135.2 583.7,140.2 584.1,146.1 584.6,152.3 585.0,153.5 585.4,155.4 585.7,157.0 586.1,157.9 586.5,160.0 586.9,160.6 587.2,160.8 587.5,162.4 587.9,162.2 588.2,163.1 588.6,162.6 589.0,165.1 589.3,164.1 589.6,166.1 590.0,166.0 590.4,166.5 590.8,165.1 591.2,164.1 591.6,164.2 592.0,164.0 592.5,159.3 593.0,156.0 593.4,155.2 593.8,155.9 594.1,155.2 594.5,153.7 594.9,153.3 595.2,153.6 595.6,153.1 596.0,153.0 596.4,152.4 596.8,153.0 597.1,152.1 597.5,151.2 597.9,151.0 598.2,151.2 598.6,150.2 599.0,150.0 599.4,150.4 599.7,148.9 600.1,148.4 600.5,148.8 600.8,149.1 601.2,147.4 601.6,148.5 601.9,146.9 602.3,147.3 602.8,149.7 603.2,152.0 603.6,157.2 604.0,164.0 604.4,163.9 604.8,163.1 605.2,162.2 605.6,161.1 606.0,161.0 606.4,161.2 606.7,161.1 607.1,160.8 607.5,161.0 607.8,161.0 608.2,159.8 608.5,160.0 608.9,159.7 609.3,159.5 609.6,159.1 610.0,159.5 610.4,158.6 610.8,157.5 611.1,155.8 611.5,155.0 611.9,153.3 612.3,154.9 612.7,156.2 613.1,157.5 613.5,159.0 613.9,158.2 614.2,158.4 614.6,157.9 614.9,157.6 615.3,158.5 615.7,158.5 616.0,158.2 616.4,158.0 616.8,157.1 617.1,157.4 617.5,156.8 617.8,156.7 618.2,157.3 618.6,156.1 618.9,156.3 619.3,156.8 619.6,155.5 620.0,156.0 620.4,155.6 620.7,155.3 621.1,155.1 621.4,155.5 621.8,154.7 622.1,155.4 622.5,154.1 622.9,154.1 623.2,154.8 623.6,154.5 623.9,154.3 624.3,153.9 624.6,153.8 625.0,153.0 625.4,153.1 625.7,153.1 626.1,152.1 626.4,152.6 626.8,152.5 627.1,152.0 627.5,151.5 627.9,151.7 628.2,151.9 628.6,150.9 628.9,150.6 629.3,150.4 629.6,150.8 630.0,150.5 630.4,150.2 630.7,150.0 631.1,149.5 631.4,149.5 631.8,149.1 632.1,149.9 632.5,149.1 632.9,149.6 633.2,148.8 633.6,148.0 633.9,148.8 634.3,148.3 634.6,147.8 635.0,147.7 635.4,148.0 635.7,147.6 636.1,146.9 636.4,147.0 636.8,147.1 637.1,147.2 637.5,146.7 637.9,146.7 638.2,146.0 638.6,145.7 638.9,146.4 639.3,145.3 639.6,145.2 640.0,145.5 640.4,145.6 640.7,145.2 641.0,144.2 641.4,144.3 641.8,144.4 642.1,143.3 642.5,142.5 642.8,142.9 643.1,142.9 643.5,142.5 643.9,142.1 644.2,141.9 644.6,141.4 644.9,140.7 645.2,141.0 645.6,140.0 646.0,141.3 646.4,141.4 646.7,142.3 647.1,142.3 647.5,143.5 647.9,142.7 648.2,142.8 648.6,142.7 648.9,142.0 649.3,142.3 649.6,142.3 650.0,142.1 650.3,141.4 650.7,141.9 651.0,141.0 651.4,140.4 651.7,140.3 652.1,141.2 652.4,139.8 652.8,140.2 653.1,140.2 653.5,139.2 653.8,138.8 654.2,139.1 654.5,139.4 654.9,139.1 655.2,138.7 655.6,138.1 655.9,138.6 656.3,137.9 656.6,138.2 657.0,137.5" fill="none" stroke="#9a9c9c" stroke-width="2.2" stroke-linejoin="round" stroke-linecap="round"/>
<polyline points="457.8,156.9 458.2,158.2 458.6,159.3 459.1,160.0 459.5,161.7 459.9,162.5 460.3,162.3 460.7,162.3 461.1,162.6 461.4,162.2 461.8,162.7 462.2,162.2 462.6,162.2 463.0,159.4 463.3,156.4 463.7,154.4 464.0,151.2 464.4,148.8 464.7,146.3 465.1,143.4 465.4,141.2 465.8,138.0 466.1,135.4 466.5,135.3 466.9,135.0 467.2,134.9 467.6,135.0 468.0,135.5 468.4,135.0 468.8,135.4 469.2,135.0 469.5,135.7 469.9,134.9 470.3,135.4 470.7,136.6 471.0,137.8 471.4,138.7 471.7,139.2 472.1,140.5 472.4,140.8 472.8,142.6 473.1,143.1 473.5,142.7 473.8,141.5 474.2,140.9 474.6,139.7 475.0,139.1 475.3,137.6 475.7,136.4 476.1,135.7 476.5,135.4 476.8,134.5 477.2,133.3 477.6,133.2 478.0,133.6 478.3,133.9 478.7,133.4 479.1,133.4 479.5,134.2 479.9,133.6 480.3,134.2 480.6,133.6 481.0,134.4 481.4,134.0 481.8,134.8 482.1,136.3 482.4,137.6 482.8,138.9 483.2,143.2 483.6,148.7 484.1,153.5 484.5,157.7 484.9,162.5 485.3,162.4 485.7,161.6 486.0,161.4 486.4,161.4 486.8,161.0 487.2,160.2 487.5,160.8 487.9,160.5 488.3,159.7 488.7,161.2 489.0,162.9 489.4,163.7 489.7,165.2 490.1,166.8 490.4,167.6 490.8,169.0 491.1,170.8 491.4,171.9 491.8,173.6 492.2,173.7 492.5,173.5 492.9,173.1 493.2,173.0 493.6,173.1 493.9,172.4 494.2,172.9 494.6,172.8 494.9,172.0 495.3,172.2 495.7,172.2 496.0,173.2 496.4,173.4 496.7,173.9 497.1,174.4 497.4,174.5 497.8,175.1 498.1,175.0 498.5,174.1 498.9,173.7 499.3,173.6 499.6,172.8 500.0,172.1 500.4,171.3 500.8,170.8 501.2,172.4 501.7,174.9 502.1,176.4 502.5,174.7 502.9,174.3 503.4,173.0 503.8,171.8 504.2,170.1 504.6,169.9 505.0,170.7 505.4,171.4 505.7,171.1 506.1,172.4 506.5,172.2 506.9,172.2 507.2,173.5 507.6,172.8 507.9,175.1 508.3,174.4 508.6,175.4 509.0,176.2 509.3,177.6 509.7,177.8 510.1,177.6 510.4,178.7 510.8,180.0 511.1,180.0 511.4,180.0 511.8,181.0 512.1,180.8 512.5,181.9 512.9,181.7 513.3,182.8 513.7,182.9 514.1,184.0 514.5,183.7 514.9,184.3 515.3,185.4 515.7,185.8 516.0,186.1 516.4,184.9 516.8,186.3 517.2,186.2 517.5,186.1 517.9,185.9 518.3,185.2 518.7,185.6 519.0,185.2 519.4,186.1 519.8,186.5 520.1,186.5 520.4,184.1 520.8,186.0 521.1,183.9 521.5,185.7 521.9,184.7 522.2,183.5 522.5,183.6 522.9,183.3 523.2,183.5 523.6,182.9 524.0,182.9 524.3,183.5 524.6,181.2 525.0,181.9 525.4,183.3 525.7,181.9 526.1,182.1 526.4,181.1 526.8,179.5 527.1,181.4 527.5,179.8 527.8,179.9 528.2,178.8 528.5,178.3 528.9,180.1 529.2,178.5 529.6,178.0 529.9,179.6 530.3,177.8 530.7,179.9 531.1,179.8 531.4,179.6 531.8,179.3 532.2,178.9 532.6,178.5 532.9,180.0 533.3,179.9 533.6,180.8 534.0,179.3 534.4,179.6 534.7,178.2 535.0,178.7 535.4,179.2 535.8,179.3 536.1,177.8 536.5,177.7 536.8,178.2 537.2,178.4 537.5,177.9 537.9,176.8 538.2,176.0 538.6,178.1 538.9,176.2 539.3,177.7 539.6,176.7 540.0,177.0 540.4,177.5 540.8,176.6 541.1,176.0 541.5,177.5 541.9,177.7 542.2,178.0 542.6,177.1 543.0,177.5 543.4,177.9 543.8,176.1 544.1,174.2 544.5,174.3 544.9,173.1 545.2,172.5 545.6,172.0 546.0,172.0 546.4,171.4 546.7,169.5 547.1,169.0 547.4,168.2 547.8,167.7 548.1,167.0 548.5,167.4 548.8,166.5 549.2,166.0 549.5,163.3 549.9,163.5 550.3,162.1 550.6,161.7 551.0,161.1 551.4,159.4 551.7,158.6 552.1,159.4 552.4,157.6 552.8,156.1 553.2,155.5 553.5,154.7 553.9,154.3 554.3,154.3 554.7,153.0 555.0,152.4 555.4,152.2 555.8,152.0 556.2,152.9 556.5,151.4 556.9,152.5 557.3,150.6 557.7,150.1 558.0,150.7 558.4,149.4 558.8,149.8 559.2,151.0 559.5,151.3 559.9,151.3 560.3,150.7 560.7,152.5 561.0,153.0 561.4,152.5 561.8,153.4 562.2,153.7 562.5,154.8 562.9,155.8 563.3,156.7 563.7,155.7 564.0,156.7 564.4,156.8 564.8,158.3 565.2,157.0 565.5,157.0 565.9,157.2 566.3,156.8 566.7,157.7 567.0,157.9 567.4,157.4 567.8,156.8 568.2,155.8 568.5,156.5 568.9,156.2 569.2,157.6 569.6,155.8 569.9,155.8 570.3,156.3 570.6,155.4 571.0,157.4 571.3,155.6 571.7,156.3 572.1,156.6 572.4,156.9 572.8,156.1 573.2,156.4 573.5,156.6 573.9,156.9 574.2,155.9 574.6,155.2 575.0,155.6 575.3,155.9 575.7,155.8 576.1,155.2 576.4,156.0 576.8,155.5 577.2,156.4 577.5,154.9 577.9,154.7 578.2,154.9 578.6,155.3 579.0,155.0 579.3,154.9 579.7,154.8 580.1,154.4 580.5,153.7 580.8,153.5 581.2,153.2 581.6,154.4 582.0,154.4 582.3,154.1 582.7,153.4 583.1,154.4 583.4,154.9 583.8,154.6 584.2,154.5 584.5,156.1 584.9,157.2 585.2,155.8 585.6,157.3 586.0,157.0 586.4,158.3 586.7,159.9 587.1,159.4 587.5,159.7 587.9,159.7 588.2,161.5 588.6,161.7 589.0,161.2 589.4,162.7 589.8,163.1 590.2,163.6 590.6,164.5 591.0,165.0 591.4,165.8 591.8,165.2 592.1,165.0 592.5,164.7 592.9,165.2 593.2,166.0 593.6,165.8 594.0,165.7 594.4,166.5 594.7,164.9 595.1,165.2 595.5,164.7 595.8,166.6 596.2,164.6 596.5,165.9 596.9,165.5 597.3,164.6 597.6,165.6 598.0,165.7 598.4,165.9 598.8,165.5 599.2,163.9 599.6,164.5 600.0,164.4 600.4,164.2 600.7,163.1 601.1,162.9 601.4,163.3 601.8,163.0 602.1,163.4 602.5,162.2 602.9,162.3 603.2,163.0 603.6,162.4 603.9,162.9 604.3,162.3 604.6,161.8 605.0,161.9 605.4,162.6 605.7,161.9 606.1,161.6 606.4,161.4 606.8,161.9 607.1,161.8 607.5,160.6 607.9,160.7 608.2,161.9 608.6,161.1 608.9,161.6 609.3,160.7 609.6,160.1 610.0,160.4 610.4,161.1 610.7,160.5 611.1,160.3 611.4,160.8 611.8,160.4 612.1,159.6 612.5,158.9 612.9,160.0 613.2,160.0 613.6,159.7 613.9,158.7 614.3,158.0 614.6,158.1 615.0,158.4 615.4,157.2 615.7,158.9 616.1,157.7 616.4,158.0 616.8,156.9 617.1,157.7 617.5,157.5 617.9,156.5 618.2,157.4 618.6,155.5 618.9,156.7 619.3,156.3 619.6,155.3 620.0,155.5 620.4,155.4 620.7,155.3 621.1,154.9 621.4,153.9 621.8,155.2 622.1,154.9 622.5,153.2 622.9,153.0 623.2,152.6 623.6,152.8 623.9,153.8 624.3,152.3 624.6,151.5 625.0,152.2 625.4,151.6 625.7,151.3 626.1,152.1 626.4,151.1 626.8,150.5 627.1,150.8 627.5,152.0 627.9,151.0 628.2,150.1 628.6,150.6 628.9,150.0 629.3,149.6 629.6,150.7 630.0,150.0 630.4,150.3 630.7,149.2 631.1,149.3 631.4,149.1 631.8,148.5 632.1,149.1 632.5,149.1 632.9,148.1 633.2,147.9 633.6,148.4 633.9,148.5 634.3,149.3 634.6,147.6 635.0,148.0 635.4,148.2 635.7,147.8 636.1,146.7 636.4,147.7 636.8,146.6 637.1,147.8 637.5,146.1 637.9,147.3 638.2,146.1 638.6,145.9 638.9,146.9 639.3,146.0 639.6,145.8 640.0,145.5 640.4,145.7 640.7,145.5 641.1,145.3 641.4,145.0 641.8,144.2 642.1,144.6 642.5,144.6 642.9,143.2 643.2,143.2 643.6,144.1 643.9,143.3 644.3,143.4 644.6,142.9 645.0,143.0 645.4,143.5 645.7,142.9 646.1,141.5 646.4,143.3 646.8,141.4 647.1,142.2 647.5,141.4 647.9,142.3 648.2,142.2 648.6,141.1 648.9,141.3 649.3,140.0 649.6,141.0 650.0,140.6 650.4,139.6 650.7,140.5 651.1,140.2 651.4,139.4 651.8,140.1 652.1,139.6 652.5,140.2 652.9,139.4 653.2,138.6 653.6,139.7 653.9,138.1 654.3,137.4 654.6,137.5 655.0,138.0 655.4,138.4 655.8,138.4 656.2,136.6 656.6,136.7 657.0,136.8" fill="none" stroke="#2546ea" stroke-width="2.2" stroke-linejoin="round" stroke-linecap="round"/>
<polyline points="457.8,177.8 458.2,178.5 458.5,178.4 458.9,179.5 459.2,180.0 459.6,180.0 459.9,180.8 460.2,181.1 460.6,181.9 461.0,182.0 461.4,181.5 461.8,180.6 462.1,181.0 462.5,180.4 462.9,179.8 463.3,179.9 463.7,179.3 464.1,178.9 464.4,179.0 464.8,177.7 465.2,177.4 465.6,177.5 466.0,176.8 466.4,176.0 466.7,175.8 467.1,175.6 467.5,175.0 467.9,175.3 468.2,176.3 468.6,176.2 468.9,177.5 469.2,177.7 469.6,177.7 469.9,178.7 470.3,179.2 470.7,178.9 471.0,177.5 471.4,176.5 471.8,176.0 472.2,175.0 472.5,174.2 472.9,174.1 473.3,173.5 473.7,172.2 474.0,172.0 474.4,170.8 474.8,170.9 475.1,170.7 475.4,171.1 475.8,171.5 476.1,171.2 476.5,171.3 476.9,171.2 477.2,170.8 477.6,171.7 477.9,171.3 478.2,171.7 478.6,171.5 479.0,170.8 479.3,170.0 479.7,169.1 480.0,168.0 480.4,167.6 480.7,167.0 481.1,166.5 481.4,165.1 481.8,164.9 482.1,163.9 482.5,164.0 482.9,165.0 483.3,165.4 483.7,165.0 484.1,166.4 484.5,166.5 484.9,166.7 485.3,165.4 485.7,164.3 486.0,162.9 486.4,161.7 486.8,160.1 487.2,159.4 487.5,158.4 487.9,156.7 488.3,155.6 488.7,155.1 489.0,155.1 489.4,154.1 489.7,153.4 490.1,153.3 490.4,153.1 490.8,152.4 491.1,152.1 491.5,152.4 491.9,152.7 492.4,152.7 492.8,152.8 493.2,152.8 493.6,151.0 493.9,149.2 494.2,146.3 494.6,144.3 494.9,143.2 495.3,141.2 495.6,138.4 496.0,136.8 496.4,137.7 496.8,139.1 497.1,139.8 497.5,141.5 497.9,142.3 498.3,143.9 498.6,144.5 499.0,146.0 499.4,147.2 499.8,148.3 500.1,149.2 500.4,150.9 500.8,152.0 501.1,153.6 501.5,154.3 501.8,155.9 502.2,156.9 502.6,156.9 502.9,156.6 503.2,156.7 503.6,156.5 503.9,156.3 504.3,156.2 504.6,155.9 505.0,155.6 505.4,156.8 505.8,157.6 506.1,158.4 506.5,159.4 506.9,161.1 507.2,162.1 507.6,162.2 507.9,162.3 508.3,163.2 508.6,162.5 509.0,162.4 509.3,163.4 509.7,163.9 510.1,165.9 510.4,166.2 510.8,167.8 511.1,169.3 511.4,170.3 511.8,170.8 512.2,170.1 512.6,169.9 513.1,168.2 513.5,168.1 513.9,166.7 514.2,166.4 514.6,166.2 515.0,166.5 515.3,166.3 515.6,166.4 516.0,166.4 516.4,166.5 516.7,166.1 517.0,166.1 517.4,164.7 517.8,165.4 518.1,165.3 518.5,164.2 518.9,164.6 519.3,163.9 519.6,163.3 520.0,163.7 520.4,164.0 520.8,163.2 521.1,163.4 521.5,164.7 521.8,163.6 522.2,163.8 522.5,164.2 522.9,165.5 523.2,166.5 523.6,166.7 523.9,165.8 524.3,166.7 524.6,167.3 525.0,166.9 525.3,167.0 525.7,168.7 526.0,168.3 526.4,167.9 526.8,168.8 527.1,169.5 527.5,170.5 527.8,170.7 528.1,170.5 528.5,170.8 528.9,171.3 529.2,169.9 529.5,170.6 529.9,170.1 530.2,169.1 530.6,168.8 531.0,168.3 531.4,168.4 531.8,168.2 532.1,168.8 532.5,167.9 532.9,168.2 533.3,167.4 533.6,167.6 534.0,166.8 534.4,167.0 534.7,166.7 535.0,165.1 535.4,166.2 535.8,165.0 536.1,164.6 536.5,164.4 536.9,164.2 537.3,164.0 537.7,164.5 538.1,163.1 538.5,162.9 538.9,163.2 539.3,162.7 539.6,162.7 540.0,162.7 540.4,160.6 540.8,160.8 541.1,158.5 541.5,158.4 541.9,157.9 542.2,155.9 542.6,157.0 543.0,154.8 543.4,153.9 543.8,153.9 544.1,152.2 544.5,151.7 544.9,150.4 545.2,147.9 545.6,146.6 546.0,146.9 546.4,146.2 546.7,145.6 547.1,145.9 547.5,146.5 547.8,145.7 548.2,145.9 548.5,145.1 548.9,145.3 549.3,146.5 549.6,146.9 550.0,147.1 550.4,147.0 550.8,146.4 551.1,148.4 551.5,146.8 551.9,147.8 552.3,147.6 552.6,147.4 553.0,148.7 553.4,147.2 553.8,147.9 554.1,147.3 554.5,149.5 554.9,148.8 555.3,149.6 555.7,151.3 556.1,151.9 556.5,154.4 556.9,153.3 557.3,152.1 557.6,155.2 558.0,154.3 558.3,155.0 558.7,154.0 559.1,155.2 559.4,154.5 559.8,156.9 560.2,155.9 560.5,159.9 560.9,159.7 561.3,158.2 561.7,159.1 562.0,158.0 562.4,161.4 562.8,161.2 563.2,159.9 563.5,162.3 563.9,159.8 564.3,160.7 564.7,162.9 565.0,162.8 565.4,164.8 565.8,162.8 566.2,163.1 566.5,159.9 566.9,161.9 567.3,160.8 567.7,155.8 568.0,154.9 568.4,153.9 568.8,154.8 569.2,154.5 569.5,153.4 569.9,153.7 570.2,155.1 570.6,153.0 571.0,151.4 571.3,150.5 571.7,152.3 572.1,151.5 572.5,152.7 572.8,150.6 573.2,152.5 573.6,150.5 574.0,149.8 574.3,148.7 574.7,149.7 575.1,148.1 575.5,147.7 575.8,148.7 576.2,145.0 576.6,144.2 577.0,147.0 577.3,144.8 577.7,144.3 578.1,146.1 578.5,145.3 578.8,147.1 579.2,146.5 579.6,147.7 580.0,146.4 580.3,146.3 580.7,146.3 581.1,143.1 581.5,142.5 581.9,144.0 582.3,142.9 582.7,140.9 583.2,146.1 583.6,150.0 584.1,159.5 584.6,165.0 585.0,166.0 585.4,167.6 585.8,168.5 586.2,168.6 586.6,170.0 587.0,169.6 587.4,170.0 587.7,170.4 588.1,170.6 588.5,170.6 588.9,170.4 589.2,171.2 589.6,170.6 590.0,171.0 590.4,170.9 590.7,171.6 591.1,170.9 591.5,170.5 591.8,170.0 592.2,170.5 592.5,171.7 592.9,171.8 593.3,171.9 593.6,170.5 594.0,171.0 594.4,170.8 594.8,171.2 595.1,169.9 595.5,170.1 595.9,169.4 596.2,169.4 596.6,170.1 597.0,169.0 597.4,168.2 597.8,166.3 598.2,166.4 598.6,164.4 599.0,164.2 599.4,162.4 599.8,162.0 600.2,161.0 600.6,160.0 601.1,157.8 601.5,156.5 601.9,157.3 602.2,157.8 602.6,158.2 603.0,160.0 603.4,161.3 603.8,161.4 604.2,161.1 604.6,162.6 605.0,163.5 605.4,163.4 605.7,163.1 606.1,162.2 606.5,163.8 606.8,161.4 607.2,162.8 607.6,162.4 608.0,162.7 608.3,160.7 608.7,162.1 609.1,160.9 609.4,160.5 609.8,161.0 610.2,161.0 610.5,159.8 610.9,160.2 611.3,159.7 611.7,160.9 612.0,159.6 612.4,160.9 612.8,160.0 613.2,159.9 613.5,160.9 613.9,159.9 614.3,160.4 614.6,160.7 615.0,160.5 615.4,160.4 615.7,160.7 616.1,160.3 616.4,159.2 616.8,159.0 617.1,160.2 617.5,159.6 617.9,158.7 618.2,159.5 618.6,158.0 618.9,157.2 619.3,158.6 619.6,157.7 620.0,157.5 620.4,158.3 620.7,157.6 621.1,157.5 621.4,156.4 621.8,156.4 622.1,154.2 622.5,155.4 622.9,154.3 623.2,153.6 623.6,154.0 623.9,154.0 624.3,152.3 624.6,152.2 625.0,152.5 625.4,151.7 625.7,151.4 626.1,152.6 626.4,152.5 626.8,151.8 627.1,150.8 627.5,151.5 627.9,151.4 628.2,150.0 628.6,150.5 628.9,150.0 629.3,150.1 629.6,150.6 630.0,150.3 630.4,149.0 630.7,150.3 631.1,149.2 631.4,148.9 631.8,149.9 632.1,150.0 632.5,148.1 632.9,148.4 633.2,148.9 633.6,147.8 633.9,147.8 634.3,148.5 634.6,149.0 635.0,148.3 635.4,147.0 635.7,148.9 636.1,147.8 636.4,148.7 636.8,147.5 637.1,147.9 637.5,147.0 637.9,146.6 638.2,146.8 638.6,146.8 638.9,146.3 639.3,146.5 639.6,147.0 640.0,145.8 640.4,144.7 640.7,145.6 641.1,144.8 641.4,145.5 641.8,144.9 642.1,143.8 642.5,144.3 642.9,143.6 643.2,145.2 643.6,143.2 643.9,144.5 644.3,143.9 644.6,142.8 645.0,143.3 645.4,142.2 645.7,142.3 646.1,141.6 646.4,141.9 646.8,142.1 647.1,142.4 647.5,142.0 647.9,142.7 648.2,141.7 648.6,142.2 648.9,141.7 649.3,140.8 649.6,141.5 650.0,140.9 650.4,141.0 650.7,140.6 651.1,140.6 651.4,141.2 651.8,140.4 652.1,140.6 652.5,138.8 652.9,140.1 653.2,138.3 653.6,139.7 653.9,138.7 654.3,138.2 654.6,138.0 655.0,138.3 655.4,136.9 655.8,138.1 656.2,136.9 656.6,137.4 657.0,137.1" fill="none" stroke="#18d018" stroke-width="2.2" stroke-linejoin="round" stroke-linecap="round"/>
<polyline points="457.8,172.9 458.2,173.9 458.6,174.9 459.1,176.2 459.5,177.3 459.9,178.5 460.3,177.4 460.6,177.9 461.0,176.8 461.4,176.2 461.7,176.0 462.1,175.5 462.5,174.8 462.8,173.7 463.2,174.0 463.5,173.7 463.9,172.2 464.3,171.5 464.6,171.2 465.0,171.0 465.4,170.5 465.7,169.4 466.1,169.4 466.5,169.4 466.9,169.8 467.2,170.7 467.6,169.9 468.0,170.2 468.4,171.1 468.8,171.1 469.2,170.9 469.5,171.3 469.9,171.8 470.3,172.2 470.7,171.9 471.0,170.6 471.4,170.2 471.8,169.3 472.1,168.7 472.5,167.2 472.9,166.5 473.3,165.8 473.6,165.4 474.0,164.2 474.4,163.8 474.7,163.5 475.1,162.5 475.5,162.8 475.9,163.5 476.3,165.2 476.7,165.5 477.1,166.1 477.5,167.2 477.9,167.4 478.2,167.1 478.6,166.5 478.9,166.7 479.3,165.5 479.6,165.9 480.0,165.5 480.3,164.8 480.7,164.6 481.1,165.0 481.4,165.5 481.8,166.3 482.1,166.2 482.4,166.9 482.8,168.0 483.1,167.8 483.5,167.9 483.8,169.4 484.2,169.4 484.6,168.6 484.9,168.7 485.3,167.9 485.7,167.4 486.1,167.1 486.4,166.9 486.8,167.4 487.2,166.8 487.6,165.7 487.9,165.8 488.3,165.3 488.7,165.6 489.0,166.9 489.4,166.9 489.7,167.7 490.1,168.5 490.4,169.7 490.8,169.9 491.1,170.8 491.5,170.2 491.9,169.5 492.2,169.0 492.6,168.2 493.0,167.4 493.4,166.7 493.8,166.0 494.2,166.2 494.5,165.2 494.9,164.3 495.3,163.9 495.7,163.7 496.0,164.3 496.4,165.4 496.8,165.1 497.2,165.3 497.5,165.8 497.9,167.0 498.3,167.0 498.7,167.8 499.0,168.2 499.4,168.1 499.8,167.4 500.1,167.8 500.4,167.7 500.8,167.1 501.1,168.0 501.5,167.3 501.9,167.0 502.2,167.1 502.6,167.2 502.9,167.0 503.2,166.6 503.6,166.7 504.0,166.7 504.5,167.1 504.9,168.1 505.3,169.9 505.7,170.9 506.1,170.6 506.5,173.2 506.9,173.6 507.2,173.0 507.6,174.1 507.9,172.0 508.3,171.9 508.6,172.2 509.0,172.2 509.4,173.3 509.7,175.3 510.1,177.9 510.4,177.9 510.8,180.4 511.1,181.9 511.5,181.3 511.8,179.4 512.2,178.6 512.5,176.9 512.9,177.0 513.2,175.0 513.6,174.1 514.0,173.5 514.5,172.4 514.9,172.0 515.3,172.2 515.6,172.1 516.0,170.3 516.3,171.5 516.7,170.8 517.0,169.5 517.4,169.4 517.8,168.0 518.2,169.4 518.6,169.0 518.9,167.8 519.3,167.9 519.7,167.1 520.1,166.7 520.5,166.8 520.9,167.5 521.3,167.9 521.7,167.8 522.1,167.6 522.5,167.8 522.9,168.1 523.2,168.5 523.6,168.3 524.0,169.3 524.3,168.9 524.6,168.9 525.0,169.5 525.4,169.7 525.7,170.8 526.1,170.7 526.5,172.1 526.9,172.4 527.3,173.5 527.7,174.7 528.1,175.3 528.5,175.0 528.9,174.8 529.3,174.9 529.7,174.0 530.0,174.6 530.4,173.7 530.8,173.8 531.2,172.9 531.6,171.6 532.0,172.2 532.4,171.8 532.8,170.8 533.2,169.8 533.6,170.1 534.0,169.4 534.4,169.4 534.7,169.5 535.0,169.5 535.4,168.5 535.8,169.9 536.1,169.4 536.5,169.8 536.8,168.1 537.1,168.2 537.5,168.8 537.9,168.6 538.2,168.0 538.6,166.6 538.9,167.7 539.3,169.1 539.6,165.4 540.0,167.2 540.4,166.8 540.7,165.7 541.1,166.6 541.4,167.8 541.8,164.1 542.1,167.5 542.5,163.7 542.9,163.9 543.2,164.9 543.6,166.2 543.9,166.2 544.3,166.0 544.6,162.3 545.0,163.9 545.4,164.9 545.8,162.6 546.1,164.6 546.5,163.1 546.9,163.6 547.3,163.8 547.6,162.9 548.0,163.1 548.4,161.9 548.8,162.2 549.1,160.5 549.5,158.7 549.9,160.0 550.3,158.1 550.6,160.7 551.0,156.9 551.4,158.7 551.7,158.2 552.1,158.6 552.4,159.0 552.8,156.6 553.2,156.0 553.5,158.2 553.9,155.8 554.3,158.1 554.6,156.0 555.0,158.9 555.4,156.1 555.8,162.2 556.1,158.2 556.5,162.4 556.9,162.0 557.3,161.3 557.6,164.9 558.0,166.0 558.3,161.2 558.7,162.6 559.1,164.0 559.4,165.0 559.8,165.7 560.2,166.2 560.5,164.6 560.9,166.2 561.3,167.3 561.7,166.7 562.0,163.6 562.4,163.0 562.8,164.9 563.2,166.8 563.5,166.2 563.9,169.0 564.3,166.5 564.7,168.4 565.0,169.1 565.4,166.9 565.8,168.3 566.2,170.3 566.5,165.3 566.9,167.7 567.3,163.7 567.7,163.0 568.0,166.4 568.4,165.4 568.8,162.3 569.2,162.5 569.5,159.4 569.9,162.6 570.2,162.1 570.6,163.9 571.0,162.3 571.3,164.3 571.7,161.7 572.1,159.9 572.5,161.9 572.8,162.5 573.2,158.6 573.6,158.3 574.0,161.2 574.3,161.5 574.7,158.3 575.1,159.4 575.5,158.6 575.8,158.5 576.2,158.7 576.6,156.8 577.0,159.1 577.3,158.2 577.7,158.7 578.1,160.2 578.5,158.1 578.8,156.6 579.2,160.2 579.6,156.7 580.0,156.9 580.3,159.2 580.7,157.8 581.1,155.4 581.5,157.0 581.9,155.7 582.3,156.0 582.7,155.8 583.1,158.3 583.5,158.8 583.8,159.4 584.2,162.3 584.6,164.7 585.0,166.9 585.4,167.2 585.7,163.9 586.1,166.3 586.5,167.7 586.9,168.6 587.2,168.7 587.6,167.3 588.0,166.4 588.4,166.2 588.8,166.8 589.2,166.8 589.6,169.4 590.0,167.5 590.4,169.0 590.7,169.2 591.1,168.3 591.4,170.9 591.8,170.2 592.1,169.9 592.5,170.0 592.9,170.0 593.2,168.9 593.5,169.1 593.9,170.1 594.2,169.5 594.6,170.2 595.0,169.5 595.3,171.0 595.6,169.9 596.0,171.0 596.4,170.3 596.8,170.5 597.1,171.7 597.5,168.3 597.9,171.3 598.2,171.5 598.6,171.6 599.0,169.5 599.4,170.4 599.8,168.8 600.2,168.1 600.6,168.8 601.0,168.0 601.4,166.4 601.7,168.6 602.1,164.7 602.5,165.3 602.8,166.3 603.2,165.9 603.5,166.5 603.9,165.1 604.3,163.7 604.6,162.1 605.0,164.2 605.4,166.0 605.7,164.2 606.1,163.4 606.4,162.5 606.8,161.8 607.1,165.4 607.5,163.0 607.9,161.0 608.2,161.4 608.6,163.9 608.9,161.2 609.3,163.7 609.6,163.5 610.0,162.7 610.4,160.6 610.7,161.8 611.1,161.8 611.4,163.6 611.8,162.1 612.1,162.9 612.5,159.8 612.9,162.7 613.2,162.7 613.6,161.0 613.9,158.4 614.3,159.4 614.6,160.5 615.0,160.7 615.4,162.1 615.7,159.7 616.1,161.4 616.4,157.8 616.8,158.3 617.1,161.2 617.5,158.5 617.9,160.7 618.2,159.8 618.6,157.8 618.9,156.5 619.3,157.2 619.6,157.7 620.0,157.8 620.4,160.0 620.7,159.6 621.1,156.3 621.4,155.3 621.8,154.0 622.1,155.8 622.5,158.4 622.9,155.7 623.2,154.7 623.6,153.6 623.9,152.5 624.3,154.3 624.6,156.7 625.0,154.5 625.4,155.8 625.7,151.5 626.1,152.5 626.4,155.8 626.8,151.9 627.1,152.8 627.5,152.7 627.9,152.0 628.2,154.9 628.6,150.4 628.9,152.9 629.3,152.7 629.6,150.6 630.0,152.3 630.4,153.3 630.7,154.4 631.1,151.7 631.4,151.5 631.8,152.7 632.1,151.3 632.5,152.3 632.9,149.0 633.2,149.9 633.6,153.6 633.9,151.1 634.3,149.1 634.6,150.0 635.0,150.3 635.4,150.2 635.7,150.9 636.1,149.0 636.4,146.9 636.8,146.9 637.1,151.8 637.5,148.4 637.9,149.3 638.2,147.5 638.6,149.9 638.9,146.3 639.3,148.6 639.6,149.7 640.0,147.8 640.4,147.4 640.7,146.6 641.1,147.5 641.4,146.9 641.8,147.8 642.1,148.3 642.5,144.5 642.9,148.1 643.2,144.2 643.6,147.5 643.9,144.2 644.3,148.0 644.6,144.6 645.0,145.3 645.4,147.7 645.7,142.2 646.1,144.2 646.4,142.8 646.8,141.9 647.1,142.1 647.5,142.5 647.9,143.9 648.2,143.5 648.6,143.6 648.9,144.5 649.3,143.2 649.6,142.0 650.0,142.9 650.4,142.8 650.7,142.3 651.1,142.6 651.4,143.4 651.8,143.3 652.1,140.3 652.5,142.8 652.9,142.1 653.2,139.2 653.6,141.8 653.9,141.3 654.3,141.5 654.6,143.0 655.0,140.3 655.4,139.4 655.8,141.2 656.2,139.9 656.6,141.7 657.0,139.1" fill="none" stroke="#fb6a1c" stroke-width="2.2" stroke-linejoin="round" stroke-linecap="round"/>
<text x="389.2" y="81.1" font-size="12" fill="#4e5456" text-anchor="end" >50</text>
<text x="389.2" y="106.1" font-size="12" fill="#4e5456" text-anchor="end" >40</text>
<text x="389.2" y="131" font-size="12" fill="#4e5456" text-anchor="end" >30</text>
<text x="389.2" y="156" font-size="12" fill="#4e5456" text-anchor="end" >20</text>
<text x="389.2" y="180.6" font-size="12" fill="#4e5456" text-anchor="end" >10</text>
<text x="389.2" y="203.7" font-size="12" fill="#4e5456" text-anchor="end" >0</text>
<text x="395.2" y="219" font-size="12" fill="#4e5456" text-anchor="middle" >10</text>
<text x="526.5" y="219" font-size="12" fill="#4e5456" text-anchor="middle" >100</text>
<text x="656.5" y="219" font-size="12" fill="#4e5456" text-anchor="middle" >1000</text>
<text x="474.8" y="240.6" font-size="13.2" fill="#4e5456" textLength="105.2" lengthAdjust="spacingAndGlyphs" >Frequency [MHz]</text>
<text transform="translate(366.4 205.0) rotate(-90)" font-size="13.5" fill="#4e5456" textLength="129.2" lengthAdjust="spacingAndGlyphs">Noise level [dBuV/m]</text>
<text x="396.7" y="67.9" font-size="11.6" fill="#4f5557" textLength="144" lengthAdjust="spacingAndGlyphs" >Horizontally-polarized wave</text>
<line x1="547" y1="20.7" x2="564.9" y2="20.7" stroke="#8f9292" stroke-width="1.8"/>
<text x="571" y="25.7" font-size="11.6" fill="#7f8484" textLength="70.5" lengthAdjust="spacingAndGlyphs" >No measures</text>
<line x1="547" y1="35.8" x2="564.9" y2="35.8" stroke="#2443ee" stroke-width="1.8"/>
<text x="571" y="40.6" font-size="11.6" fill="#1f44ee" textLength="68.5" lengthAdjust="spacingAndGlyphs" >Measures (1)</text>
<line x1="547" y1="50.7" x2="564.9" y2="50.7" stroke="#12d012" stroke-width="1.8"/>
<text x="571" y="55.5" font-size="11.6" fill="#0fc40f" textLength="68.8" lengthAdjust="spacingAndGlyphs" >Measures (2)</text>
<line x1="547" y1="64.8" x2="564.9" y2="64.8" stroke="#fb6a1c" stroke-width="1.8"/>
<text x="571" y="69.8" font-size="11.6" fill="#f6641c" textLength="89" lengthAdjust="spacingAndGlyphs" >Measures (1)+(2)</text>
<line x1="435.40" y1="328.3" x2="435.40" y2="454.5" stroke="#cdcdcd" stroke-width="1.3"/>
<line x1="459.10" y1="328.3" x2="459.10" y2="454.5" stroke="#cdcdcd" stroke-width="1.3"/>
<line x1="475.30" y1="328.3" x2="475.30" y2="454.5" stroke="#cdcdcd" stroke-width="1.3"/>
<line x1="488.20" y1="328.3" x2="488.20" y2="454.5" stroke="#cdcdcd" stroke-width="1.3"/>
<line x1="498.40" y1="328.3" x2="498.40" y2="454.5" stroke="#cdcdcd" stroke-width="1.3"/>
<line x1="507.50" y1="328.3" x2="507.50" y2="454.5" stroke="#cdcdcd" stroke-width="1.3"/>
<line x1="515.30" y1="328.3" x2="515.30" y2="454.5" stroke="#cdcdcd" stroke-width="1.3"/>
<line x1="521.80" y1="328.3" x2="521.80" y2="454.5" stroke="#cdcdcd" stroke-width="1.3"/>
<line x1="528.00" y1="328.3" x2="528.00" y2="454.5" stroke="#cdcdcd" stroke-width="1.3"/>
<line x1="567.30" y1="328.3" x2="567.30" y2="454.5" stroke="#cdcdcd" stroke-width="1.3"/>
<line x1="590.60" y1="328.3" x2="590.60" y2="454.5" stroke="#cdcdcd" stroke-width="1.3"/>
<line x1="608.40" y1="328.3" x2="608.40" y2="454.5" stroke="#cdcdcd" stroke-width="1.3"/>
<line x1="620.40" y1="328.3" x2="620.40" y2="454.5" stroke="#cdcdcd" stroke-width="1.3"/>
<line x1="631.20" y1="328.3" x2="631.20" y2="454.5" stroke="#cdcdcd" stroke-width="1.3"/>
<line x1="639.40" y1="328.3" x2="639.40" y2="454.5" stroke="#cdcdcd" stroke-width="1.3"/>
<line x1="647.60" y1="328.3" x2="647.60" y2="454.5" stroke="#cdcdcd" stroke-width="1.3"/>
<line x1="654.30" y1="328.3" x2="654.30" y2="454.5" stroke="#cdcdcd" stroke-width="1.3"/>
<line x1="396" y1="353.54" x2="660" y2="353.54" stroke="#c5c5c5" stroke-width="1.2"/>
<line x1="396" y1="378.78" x2="660" y2="378.78" stroke="#c5c5c5" stroke-width="1.2"/>
<line x1="396" y1="404.02" x2="660" y2="404.02" stroke="#c5c5c5" stroke-width="1.2"/>
<line x1="396" y1="429.26" x2="660" y2="429.26" stroke="#c5c5c5" stroke-width="1.2"/>
<path d="M396,328.3 H660 V454.5" fill="none" stroke="#c2c2c2" stroke-width="1.5"/>
<path d="M396,327.55 V454.5 H660.75" fill="none" stroke="#bcbcbc" stroke-width="2"/>
<polygon points="598.4,414.8 598.6,402.5 600.0,402.0 602.0,403.0 604.0,404.0 605.5,405.0 606.8,406.5 607.2,414.8" fill="#9a9c9c"/>
<polyline points="458.6,377.3 459.0,377.8 459.4,377.9 459.8,377.6 460.2,378.1 460.6,378.5 461.0,378.5 461.4,378.4 461.8,378.3 462.1,378.5 462.5,378.9 462.9,379.0 463.3,378.8 463.7,378.9 464.1,378.4 464.5,378.4 464.9,378.0 465.3,378.1 465.7,377.9 466.1,377.7 466.5,377.5 466.9,377.2 467.3,377.0 467.7,377.2 468.1,376.7 468.5,376.8 468.9,376.7 469.2,376.6 469.6,376.6 470.0,376.5 470.4,376.0 470.7,376.5 471.1,376.1 471.5,375.5 471.8,374.8 472.2,373.3 472.5,372.8 472.9,371.9 473.3,370.2 473.8,368.3 474.2,367.0 474.6,365.4 475.0,366.7 475.3,367.2 475.7,368.6 476.0,369.9 476.4,370.7 476.8,371.9 477.1,372.3 477.5,373.2 477.8,374.2 478.2,374.9 478.6,373.5 479.0,372.5 479.4,371.4 479.8,369.5 480.2,368.5 480.6,367.1 481.0,366.5 481.4,366.2 481.8,366.1 482.2,365.5 482.6,365.2 483.0,364.8 483.4,365.8 483.7,368.0 484.1,369.1 484.4,370.7 484.8,371.9 485.3,373.1 485.7,374.1 486.2,374.9 486.6,373.1 486.9,371.9 487.3,370.2 487.7,368.3 488.1,368.3 488.4,367.8 488.8,367.5 489.1,367.3 489.5,367.1 489.9,367.7 490.2,368.6 490.6,369.4 490.9,370.7 491.3,371.3 491.7,372.3 492.0,372.6 492.4,374.0 492.7,374.3 493.1,375.5 493.5,374.8 493.8,373.7 494.2,373.2 494.5,372.9 494.9,372.0 495.3,368.0 495.7,364.6 496.1,360.8 496.5,357.1 496.9,361.9 497.4,366.4 497.8,371.4 498.2,372.2 498.6,373.5 498.9,374.8 499.3,375.6 499.7,377.0 500.1,377.6 500.4,377.1 500.8,376.3 501.2,377.3 501.5,377.4 501.9,376.9 502.3,377.9 502.7,379.0 503.1,380.7 503.5,382.3 503.9,383.5 504.3,386.2 504.7,388.1 505.1,387.7 505.4,386.9 505.8,386.7 506.1,386.0 506.4,385.0 506.8,385.3 507.2,386.5 507.6,385.4 508.1,386.1 508.5,386.3 508.9,387.4 509.2,387.2 509.6,387.4 509.9,387.1 510.3,386.7 510.8,387.8 511.2,389.1 511.7,390.8 512.1,391.4 512.5,392.5 513.0,392.8 513.4,394.7 513.8,395.0 514.2,394.8 514.6,395.3 515.0,396.2 515.4,396.2 515.8,397.1 516.1,399.3 516.5,400.4 516.9,401.2 517.2,403.3 517.6,404.4 518.0,404.5 518.5,404.3 518.9,405.7 519.3,406.1 519.6,406.3 520.0,407.1 520.4,408.0 520.7,408.6 521.0,408.8 521.4,409.1 521.8,408.9 522.1,409.6 522.5,409.5 522.9,409.7 523.3,410.8 523.7,411.1 524.1,411.8 524.5,411.2 524.9,411.7 525.3,411.9 525.7,412.9 526.1,412.4 526.4,413.9 526.8,413.2 527.2,414.2 527.6,414.4 528.0,413.9 528.3,414.9 528.7,415.6 529.0,415.7 529.4,416.3 529.7,415.8 530.1,415.7 530.5,416.8 531.0,418.0 531.4,418.6 531.8,416.5 532.1,413.9 532.5,411.3 532.8,408.7 533.2,406.1 533.6,404.3 534.0,403.7 534.5,402.3 534.9,401.0 535.3,400.6 535.6,399.9 536.0,399.4 536.3,399.6 536.7,398.1 537.0,398.3 537.4,397.8 537.8,397.9 538.2,395.9 538.6,395.9 539.0,395.9 539.4,395.0 539.8,394.4 540.1,394.9 540.5,394.0 540.8,391.0 541.1,390.2 541.5,391.8 541.9,389.8 542.2,389.4 542.6,387.6 543.0,387.6 543.4,388.0 543.8,387.9 544.2,386.1 544.6,387.9 545.0,386.7 545.5,386.5 546.0,384.6 546.4,382.8 546.7,381.9 547.1,379.7 547.5,377.1 547.8,375.7 548.2,374.8 548.6,374.2 549.0,373.5 549.4,373.2 549.7,372.6 550.1,372.5 550.5,372.4 550.9,373.2 551.3,372.2 551.6,372.4 552.0,374.2 552.4,371.5 552.7,372.0 553.1,373.7 553.5,371.6 553.8,371.6 554.2,372.6 554.6,371.8 554.9,373.3 555.3,371.2 555.6,371.4 556.0,372.9 556.3,371.9 556.7,371.6 557.0,371.9 557.4,371.5 557.8,373.2 558.2,371.9 558.7,375.3 559.1,374.8 559.5,373.7 559.9,375.1 560.3,375.2 560.6,376.5 561.0,375.7 561.4,376.2 561.8,377.0 562.2,377.1 562.5,377.6 562.9,378.0 563.3,378.6 563.6,380.7 564.0,381.3 564.4,381.9 564.7,384.8 565.1,384.3 565.5,386.1 565.8,387.7 566.2,387.9 566.6,388.4 567.0,389.1 567.5,389.8 567.9,387.0 568.3,389.0 568.7,390.2 569.0,388.0 569.4,389.4 569.8,391.3 570.1,390.5 570.5,391.2 570.9,390.0 571.2,391.2 571.6,388.4 572.0,389.7 572.3,390.1 572.7,387.9 573.1,389.4 573.5,389.5 573.9,389.4 574.2,388.0 574.6,388.6 575.0,389.6 575.4,387.6 575.8,388.8 576.2,385.8 576.6,386.8 577.0,386.9 577.4,385.5 577.8,385.0 578.2,384.8 578.6,383.8 579.0,383.3 579.4,380.9 579.8,381.3 580.2,380.8 580.5,382.9 580.9,380.4 581.2,382.4 581.6,379.8 581.9,381.4 582.3,380.7 582.6,380.0 583.0,379.8 583.4,379.3 583.7,378.1 584.0,380.3 584.4,377.6 584.8,376.3 585.1,377.7 585.8,384.0 586.2,385.9 586.5,389.7 586.9,391.4 587.3,392.2 587.7,393.6 588.1,395.5 588.5,396.3 588.9,396.4 589.3,398.6 589.7,400.1 590.1,401.5 590.5,401.2 590.9,402.4 591.3,404.8 591.7,405.7 592.1,406.4 592.5,406.6 592.9,408.2 593.2,408.7 593.6,409.7 594.0,410.5 594.4,409.0 594.9,408.3 595.3,408.1 595.7,406.2 596.2,410.3 596.6,413.0 597.0,413.0 597.4,413.3 597.7,414.0 598.1,414.5 598.5,414.0 598.9,413.9 599.2,413.6 599.6,414.0 600.0,413.6 600.4,413.5 600.8,413.6 601.1,414.1 601.5,414.9 601.9,415.3 602.2,414.4 602.6,415.3 603.0,414.5 603.4,414.5 603.7,414.6 604.0,414.9 604.4,413.8 604.8,415.1 605.1,414.7 605.5,415.4 605.8,413.6 606.1,413.6 606.5,414.5 607.0,413.0 607.4,413.0 607.8,413.6 608.1,412.1 608.5,412.5 608.9,412.6 609.2,413.0 609.6,413.2 610.0,412.5 610.4,413.6 610.7,412.0 611.1,412.8 611.4,413.7 611.8,412.1 612.1,413.1 612.5,413.0 613.0,395.8 613.4,403.6 613.8,412.0 614.1,411.0 614.5,410.5 614.8,411.2 615.2,410.7 615.5,410.7 615.9,410.0 616.2,409.4 616.6,409.4 617.0,408.1 617.3,407.5 617.6,408.2 618.0,407.0 618.4,402.3 618.8,406.3 619.2,409.0 619.6,409.5 619.9,408.0 620.3,408.3 620.7,408.2 621.0,408.1 621.4,408.1 621.7,406.5 622.1,406.2 622.5,406.5 622.8,406.4 623.2,406.0 623.5,405.6 623.9,405.6 624.3,405.2 624.6,405.7 625.0,405.0 625.4,404.1 625.7,403.7 626.1,403.7 626.4,403.1 626.8,402.7 627.1,402.2 627.5,402.5 627.9,393.8 628.2,398.2 628.6,403.5 629.0,403.1 629.3,403.3 629.7,403.3 630.0,402.9 630.4,402.0 630.7,402.7 631.1,402.0 631.4,402.6 631.8,401.7 632.2,401.8 632.5,401.3 632.9,401.7 633.2,401.9 633.6,401.9 633.9,401.4 634.3,400.2 634.6,401.4 635.0,400.5 635.4,399.7 635.7,400.5 636.1,400.2 636.4,399.6 636.8,399.3 637.1,399.5 637.5,398.9 637.9,398.7 638.2,398.8 638.6,398.7 638.9,397.8 639.3,397.6 639.6,398.9 640.0,398.0 640.4,397.6 640.7,398.1 641.1,397.1 641.4,397.3 641.8,396.5 642.1,395.7 642.5,395.5 642.9,395.4 643.2,396.1 643.6,396.1 643.9,394.8 644.3,394.9 644.6,394.4 645.0,394.5 645.4,394.1 645.7,394.1 646.1,394.1 646.4,393.6 646.8,393.2 647.1,393.7 647.5,393.7 647.9,392.9 648.2,392.4 648.6,393.0 648.9,391.9 649.3,391.6 649.6,391.5 650.0,392.0 650.4,391.3 650.7,391.8 651.1,391.9 651.4,391.7 651.8,391.8 652.1,391.5 652.5,390.0 652.9,389.8 653.2,390.6 653.6,389.7 653.9,390.5 654.3,390.0 654.6,389.8 655.0,389.5 655.4,388.7 655.7,388.6 656.1,389.4 656.4,389.6 656.8,389.2 657.1,388.0 657.5,388.9 657.9,388.0 658.2,388.3 658.6,388.5 658.9,388.0 659.3,387.4 659.6,387.8 660.0,387.5" fill="none" stroke="#9a9c9c" stroke-width="2.2" stroke-linejoin="round" stroke-linecap="round"/>
<polyline points="458.6,397.5 459.0,398.1 459.3,398.9 459.7,399.8 460.0,399.7 460.4,400.5 460.8,400.1 461.2,400.7 461.5,400.3 461.9,400.1 462.3,400.4 462.7,400.5 463.1,399.4 463.4,398.5 463.8,397.8 464.1,396.3 464.5,395.7 464.9,394.9 465.2,393.9 465.6,393.8 465.9,393.0 466.3,392.1 466.7,392.3 467.1,391.4 467.4,391.7 467.8,392.1 468.2,391.6 468.6,391.1 468.9,391.7 469.3,391.2 469.7,391.3 470.1,391.0 470.4,391.1 470.8,390.8 471.2,390.7 471.6,389.9 471.9,389.5 472.3,389.8 472.7,389.0 473.1,388.9 473.6,387.8 474.0,387.4 474.4,386.8 474.7,387.2 475.1,386.8 475.4,386.9 475.8,386.2 476.2,387.3 476.5,388.0 476.9,388.5 477.2,388.7 477.6,389.8 478.0,390.0 478.3,390.9 478.7,391.1 479.0,392.4 479.4,392.7 479.8,392.5 480.2,393.1 480.6,393.6 481.0,393.9 481.4,393.9 481.8,394.5 482.2,394.5 482.6,394.5 482.9,395.2 483.3,394.9 483.7,395.7 484.1,395.8 484.4,395.1 484.8,395.7 485.2,396.4 485.6,397.4 486.0,397.4 486.3,398.3 486.7,398.7 487.1,399.3 487.5,399.6 487.9,400.5 488.3,401.0 488.7,401.3 489.1,402.2 489.5,402.9 489.9,403.5 490.3,403.7 490.7,403.4 491.1,404.5 491.5,404.2 491.9,404.6 492.3,404.9 492.6,405.8 493.0,406.0 493.3,407.0 493.7,407.0 494.1,406.8 494.5,405.6 494.9,405.0 495.3,404.8 495.7,404.4 496.1,404.0 496.5,404.8 496.9,404.4 497.3,405.3 497.7,405.4 498.1,405.2 498.5,405.8 498.9,405.0 499.2,404.3 499.6,404.6 499.9,403.7 500.2,403.3 500.6,402.6 501.0,402.0 501.4,402.9 501.8,403.5 502.2,403.1 502.6,404.0 503.0,404.7 503.4,404.7 503.9,406.2 504.3,406.3 504.7,406.8 505.1,406.3 505.4,405.7 505.8,405.0 506.1,403.8 506.4,402.6 506.8,402.6 507.2,403.3 507.6,402.0 508.1,401.3 508.5,402.4 508.9,401.9 509.2,402.9 509.6,402.3 509.9,402.1 510.3,402.5 510.6,401.7 511.0,402.6 511.5,403.8 511.9,405.8 512.4,406.1 512.8,407.7 513.2,407.7 513.6,409.4 514.0,411.0 514.4,411.7 514.8,413.4 515.1,413.4 515.5,414.3 515.8,415.4 516.1,415.8 516.5,417.2 516.9,417.6 517.2,418.9 517.5,419.1 517.9,419.9 518.2,420.0 518.6,421.4 519.0,422.3 519.3,423.2 519.7,422.8 520.0,423.8 520.4,423.9 520.7,424.9 521.1,425.0 521.5,425.5 522.0,426.8 522.4,427.2 522.8,426.9 523.1,427.3 523.5,426.1 523.9,427.4 524.2,427.1 524.5,426.5 524.9,426.3 525.2,426.3 525.6,426.9 526.0,427.1 526.4,426.1 526.8,426.5 527.2,425.1 527.6,425.6 528.0,424.9 528.3,425.0 528.7,425.1 529.0,424.1 529.4,423.2 529.7,423.5 530.1,422.9 530.5,424.9 531.0,425.0 531.4,425.2 531.8,424.9 532.1,423.8 532.5,425.0 532.8,424.6 533.2,424.1 533.5,424.0 533.9,422.8 534.2,422.4 534.6,422.9 535.0,422.8 535.3,423.9 535.6,423.7 536.0,423.0 536.4,424.2 536.7,424.2 537.1,425.0 537.5,424.8 537.9,424.8 538.2,424.3 538.6,424.1 539.0,424.7 539.4,424.9 539.8,424.5 540.1,423.7 540.5,423.5 540.8,422.7 541.1,422.4 541.5,422.7 541.9,423.0 542.2,422.1 542.6,422.4 543.0,420.4 543.4,419.7 543.8,420.5 544.2,419.2 544.6,418.3 545.0,418.6 545.4,418.2 545.7,417.4 546.1,416.4 546.5,414.0 546.9,413.0 547.2,413.2 547.6,411.5 548.0,411.5 548.4,410.1 548.8,410.3 549.2,407.7 549.6,408.7 550.0,406.5 550.4,406.4 550.8,404.2 551.2,403.7 551.5,401.5 551.9,400.4 552.3,398.8 552.7,398.0 553.2,398.2 553.6,397.7 554.0,397.1 554.3,396.0 554.7,394.1 555.1,392.7 555.4,392.3 555.8,390.1 556.2,391.2 556.6,390.7 557.0,390.6 557.3,391.7 557.7,389.8 558.1,391.1 558.5,391.2 558.9,390.9 559.2,390.8 559.6,391.1 560.0,391.4 560.3,393.2 560.7,391.8 561.1,392.8 561.4,393.5 561.8,393.3 562.2,392.7 562.5,394.6 562.9,394.5 563.3,393.5 563.6,394.7 564.0,394.4 564.4,394.3 564.7,394.3 565.1,395.6 565.5,395.9 565.8,396.5 566.2,396.6 566.6,396.0 567.0,397.7 567.5,398.3 567.9,398.2 568.3,397.7 568.7,397.2 569.0,398.2 569.4,399.5 569.8,398.6 570.1,398.3 570.5,398.2 570.9,399.7 571.2,399.0 571.6,399.9 572.0,399.8 572.3,401.5 572.7,401.2 573.1,402.0 573.4,403.6 573.8,404.2 574.2,404.5 574.5,406.0 574.9,406.1 575.3,406.9 575.6,407.6 576.0,407.5 576.5,406.5 576.9,405.2 577.4,404.7 577.8,405.5 578.2,404.7 578.6,405.7 579.0,404.1 579.4,406.2 579.8,405.3 580.2,404.8 580.6,404.9 581.0,404.2 581.3,405.1 581.7,405.3 582.1,404.7 582.5,405.3 582.9,405.0 583.3,406.3 583.7,407.3 584.1,406.3 584.5,407.7 584.9,408.1 585.3,408.1 585.7,406.7 586.1,406.6 586.5,406.7 586.9,406.9 587.3,407.7 587.6,406.3 588.0,405.1 588.4,405.1 588.8,406.4 589.1,405.4 589.5,405.5 589.9,405.1 590.3,406.8 590.6,406.2 591.0,406.5 591.3,408.3 591.7,409.3 592.1,409.2 592.5,409.3 592.9,411.8 593.2,411.0 593.6,412.7 594.0,412.3 594.4,412.3 594.8,412.0 595.2,414.1 595.6,414.3 596.0,414.8 596.4,414.6 596.8,415.6 597.2,414.1 597.6,415.2 598.0,415.2 598.4,416.6 598.8,415.8 599.2,416.0 599.5,416.3 599.9,416.7 600.2,416.4 600.6,416.5 600.9,416.2 601.3,415.1 601.6,416.1 602.0,415.4 602.3,414.5 602.7,414.9 603.0,415.0 603.4,414.6 603.7,414.8 604.1,416.3 604.4,416.3 604.8,415.3 605.2,414.2 605.5,414.4 605.9,414.9 606.3,414.4 606.7,414.8 607.0,415.1 607.4,413.4 607.8,414.6 608.1,413.1 608.5,414.3 608.9,414.1 609.3,414.0 609.6,414.0 610.0,412.9 610.4,412.9 610.7,412.2 611.1,412.8 611.4,412.8 611.8,412.3 612.1,411.5 612.5,410.4 612.9,412.0 613.2,410.8 613.6,410.6 613.9,411.5 614.3,410.8 614.6,409.9 615.0,409.9 615.4,409.1 615.7,410.1 616.1,409.4 616.4,408.7 616.8,409.8 617.1,408.4 617.5,408.0 617.9,407.8 618.2,408.2 618.6,408.1 618.9,407.4 619.3,407.6 619.6,407.4 620.0,407.0 620.4,406.4 620.7,406.5 621.1,407.5 621.4,406.9 621.8,405.9 622.1,405.5 622.5,405.6 622.9,405.7 623.2,404.6 623.6,405.4 623.9,404.4 624.3,405.9 624.6,403.8 625.0,404.5 625.4,404.1 625.7,403.4 626.1,403.7 626.4,402.8 626.8,404.2 627.1,404.1 627.5,402.9 627.9,402.8 628.2,402.9 628.6,403.4 628.9,403.2 629.3,402.3 629.6,403.2 630.0,402.0 630.4,402.1 630.7,401.8 631.1,402.5 631.4,402.2 631.8,401.9 632.1,401.1 632.5,402.1 632.9,400.5 633.2,401.8 633.6,401.9 633.9,402.0 634.3,400.4 634.6,400.1 635.0,401.0 635.4,400.0 635.7,401.6 636.1,400.4 636.4,399.8 636.8,400.2 637.1,400.3 637.5,399.9 637.9,399.7 638.2,399.2 638.6,399.9 638.9,399.2 639.3,400.1 639.6,399.8 640.0,399.0 640.4,399.0 640.7,398.7 641.1,397.9 641.4,397.1 641.8,398.3 642.1,397.8 642.5,396.1 642.9,397.7 643.2,397.2 643.6,396.2 643.9,396.1 644.3,394.7 644.6,394.5 645.0,395.0 645.4,394.8 645.7,395.0 646.1,393.8 646.4,394.7 646.8,393.8 647.1,394.1 647.5,394.1 647.9,393.3 648.2,392.8 648.6,393.0 648.9,393.5 649.3,392.8 649.6,392.6 650.0,392.0 650.4,392.5 650.7,390.8 651.1,391.2 651.4,390.9 651.8,391.6 652.1,391.2 652.5,392.0 652.9,390.5 653.2,391.4 653.6,390.9 653.9,391.6 654.3,391.5 654.6,391.3 655.0,390.5 655.4,390.0 655.7,390.3 656.1,389.8 656.4,389.8 656.8,390.3 657.1,390.5 657.5,389.6 657.9,388.7 658.2,388.1 658.6,389.4 658.9,388.4 659.3,389.0 659.6,387.9 660.0,388.3" fill="none" stroke="#2546ea" stroke-width="2.2" stroke-linejoin="round" stroke-linecap="round"/>
<polyline points="458.6,408.2 459.0,408.9 459.4,408.8 459.8,408.7 460.2,409.3 460.6,408.9 461.0,409.4 461.4,409.3 461.7,409.8 462.1,409.0 462.4,409.0 462.8,409.3 463.1,409.2 463.4,408.9 463.8,409.5 464.1,408.7 464.5,409.0 464.9,408.9 465.3,408.7 465.7,408.0 466.1,407.3 466.5,407.7 466.9,407.0 467.3,406.7 467.7,407.3 468.1,406.5 468.5,406.3 468.9,406.2 469.3,406.4 469.7,406.1 470.1,406.2 470.5,406.2 470.9,405.6 471.3,405.7 471.7,405.2 472.1,403.5 472.4,402.7 472.8,401.6 473.1,400.6 473.5,399.3 473.9,398.4 474.4,396.8 474.8,395.0 475.2,393.9 475.6,393.6 475.9,394.5 476.3,393.8 476.6,394.6 477.0,394.5 477.4,395.2 477.7,395.7 478.1,395.3 478.4,396.3 478.8,396.3 479.2,396.4 479.5,397.0 479.9,397.7 480.2,397.5 480.6,398.1 481.0,397.4 481.3,396.3 481.7,395.7 482.0,395.0 482.4,394.5 482.8,393.8 483.1,393.5 483.5,393.3 483.8,392.7 484.2,392.1 484.6,393.0 484.9,393.0 485.3,393.1 485.6,393.6 486.0,394.5 486.4,393.4 486.9,392.5 487.3,391.5 487.7,389.8 488.1,388.7 488.4,388.8 488.8,387.6 489.1,387.4 489.5,386.2 489.9,386.5 490.2,385.6 490.6,386.1 490.9,385.6 491.3,385.6 491.7,385.7 492.0,387.0 492.4,387.3 492.7,388.0 493.1,388.6 493.5,386.7 493.9,385.1 494.3,383.8 494.7,381.1 495.0,379.3 495.4,376.2 495.7,374.0 496.1,371.9 496.5,371.3 496.9,371.5 497.3,370.7 497.7,375.1 498.1,379.7 498.5,383.8 498.9,386.2 499.3,387.3 499.7,389.8 500.1,391.1 500.5,392.6 500.9,393.4 501.3,395.0 501.7,396.3 502.1,396.7 502.5,397.2 502.9,396.5 503.3,397.8 503.7,398.5 504.1,398.4 504.6,398.6 505.0,398.1 505.4,399.2 505.8,399.2 506.1,400.5 506.4,399.5 506.8,399.9 507.1,399.6 507.5,400.6 507.9,401.1 508.2,400.9 508.6,401.8 508.9,402.2 509.2,402.3 509.6,402.6 510.0,403.3 510.4,403.7 510.9,403.1 511.3,404.0 511.7,404.7 512.1,404.7 512.5,406.2 513.0,406.5 513.4,405.7 513.8,406.8 514.2,407.7 514.6,407.6 515.0,408.2 515.4,408.2 515.8,408.9 516.1,409.2 516.5,408.6 516.9,409.5 517.2,410.3 517.5,409.1 517.9,409.8 518.2,410.4 518.6,410.3 519.0,411.1 519.4,410.7 519.8,411.4 520.2,412.1 520.6,412.1 521.0,412.6 521.4,412.4 521.8,413.3 522.1,413.6 522.5,413.8 522.8,413.5 523.1,412.9 523.5,414.0 523.9,414.0 524.2,414.4 524.6,415.4 525.0,414.8 525.4,415.6 525.8,415.5 526.2,416.0 526.6,416.8 527.0,417.2 527.4,417.6 527.8,418.4 528.2,418.5 528.5,417.9 528.9,417.7 529.3,418.6 529.7,418.6 530.1,418.3 530.5,418.9 531.0,419.2 531.4,419.9 531.8,420.0 532.1,419.4 532.5,418.4 532.8,416.5 533.2,416.4 533.5,415.9 533.9,414.4 534.2,413.7 534.6,414.0 535.0,413.8 535.3,412.4 535.6,412.0 536.0,411.7 536.4,411.9 536.7,410.6 537.0,411.4 537.4,410.6 537.8,410.9 538.1,410.3 538.5,409.9 538.9,409.3 539.3,409.5 539.6,408.6 540.0,409.2 540.4,409.2 540.8,408.2 541.1,408.1 541.5,407.5 541.8,407.3 542.2,407.0 542.5,406.2 542.9,406.1 543.2,405.7 543.6,404.9 544.0,405.1 544.3,404.3 544.6,403.8 545.0,404.0 545.4,404.4 545.7,401.5 546.1,401.2 546.4,402.0 546.8,399.4 547.1,398.8 547.5,399.0 547.9,398.8 548.2,395.6 548.6,395.1 549.0,393.9 549.3,392.2 549.7,391.6 550.0,391.7 550.4,390.0 550.8,389.4 551.2,389.6 551.6,390.5 551.9,389.6 552.3,388.7 552.7,389.6 553.1,389.0 553.5,391.1 553.8,390.2 554.2,392.4 554.6,394.1 554.9,394.3 555.3,395.5 555.6,397.7 556.0,393.8 556.3,393.4 556.7,394.8 557.0,396.0 557.4,394.4 557.8,394.2 558.1,394.1 558.5,396.0 558.9,398.5 559.2,398.9 559.6,397.7 560.0,399.3 560.3,398.0 560.7,397.7 561.1,399.6 561.4,399.8 561.8,398.8 562.2,396.7 562.5,396.1 562.9,396.7 563.3,399.4 563.6,398.2 564.0,396.6 564.4,396.2 564.7,398.4 565.1,399.7 565.5,400.7 565.8,400.0 566.2,399.9 566.6,398.5 567.0,397.9 567.4,392.6 567.8,393.3 568.2,397.1 568.6,398.8 569.0,399.5 569.4,401.0 569.8,399.9 570.2,400.6 570.7,397.4 571.1,396.6 571.5,396.3 571.9,399.9 572.3,399.8 572.7,401.0 573.1,399.9 573.4,399.2 573.8,399.7 574.2,397.8 574.5,399.4 574.9,397.7 575.2,399.6 575.6,399.6 576.0,400.3 576.3,402.2 576.6,400.7 577.0,404.2 577.4,402.1 577.8,398.5 578.2,397.2 578.6,392.6 579.0,392.1 579.3,389.9 579.7,389.2 580.0,393.3 580.4,390.5 580.8,392.7 581.2,390.0 581.7,390.6 582.1,393.2 582.5,390.5 582.8,391.6 583.2,389.2 583.5,388.4 583.9,389.0 584.3,389.0 584.7,387.0 585.1,384.1 585.5,383.7 585.9,389.1 586.3,393.8 586.9,405.7 587.3,408.7 587.7,412.3 588.1,415.2 588.5,419.2 588.9,421.4 589.3,423.6 589.7,423.5 590.0,423.7 590.4,422.9 590.7,420.6 591.1,421.2 591.5,421.5 591.8,422.9 592.2,423.8 592.5,424.7 592.9,424.2 593.3,422.7 593.8,419.8 594.2,419.8 594.6,417.6 595.0,416.8 595.3,418.8 595.7,417.4 596.0,419.4 596.4,418.8 596.8,418.5 597.1,418.5 597.5,418.2 597.8,418.0 598.2,419.5 598.6,419.5 598.9,419.2 599.3,419.2 599.6,417.0 600.0,418.0 600.4,417.4 600.7,417.9 601.1,418.3 601.4,417.4 601.8,416.2 602.1,416.8 602.5,417.0 602.9,415.9 603.2,415.4 603.6,415.7 603.9,416.4 604.3,416.3 604.6,415.9 605.0,415.5 605.4,416.1 605.7,414.7 606.1,415.1 606.4,414.0 606.8,414.3 607.1,414.3 607.5,414.1 607.9,413.3 608.2,413.5 608.6,413.7 608.9,413.8 609.3,413.6 609.6,414.0 610.0,413.2 610.4,412.9 610.7,413.7 611.1,411.9 611.4,411.6 611.8,412.3 612.1,412.7 612.5,412.6 612.9,412.0 613.2,411.0 613.6,411.0 613.9,410.4 614.3,410.8 614.6,411.4 615.0,410.2 615.4,410.6 615.7,409.4 616.1,409.6 616.4,408.8 616.8,408.3 617.1,408.9 617.5,408.7 617.9,409.2 618.2,408.5 618.6,408.7 618.9,407.8 619.3,408.2 619.6,407.8 620.0,407.3 620.4,407.0 620.7,407.5 621.1,406.6 621.4,406.3 621.8,406.5 622.1,406.6 622.5,405.4 622.9,405.0 623.2,405.2 623.6,405.2 623.9,405.6 624.3,404.6 624.6,405.3 625.0,404.8 625.4,405.6 625.7,404.6 626.1,404.4 626.4,404.9 626.8,403.3 627.1,403.6 627.5,402.7 627.9,403.5 628.2,404.1 628.6,402.1 628.9,402.0 629.3,402.7 629.6,402.8 630.0,402.3 630.4,402.6 630.7,402.7 631.1,402.0 631.4,402.9 631.8,402.4 632.1,401.1 632.5,401.9 632.9,402.4 633.2,401.2 633.6,401.7 633.9,401.3 634.3,401.8 634.6,402.1 635.0,401.3 635.4,400.4 635.7,401.3 636.1,401.1 636.4,399.9 636.8,399.8 637.1,400.1 637.5,400.7 637.9,400.7 638.2,399.0 638.6,400.2 638.9,399.2 639.3,400.0 639.6,398.5 640.0,399.3 640.4,399.5 640.7,398.2 641.1,397.3 641.4,398.8 641.8,396.8 642.1,397.6 642.5,397.0 642.9,396.3 643.2,395.4 643.6,395.5 643.9,395.3 644.3,394.6 644.6,395.5 645.0,393.2 645.3,393.9 645.7,393.4 646.1,394.1 646.6,394.8 647.0,395.5 647.4,395.6 647.7,395.5 648.1,394.5 648.4,393.9 648.8,394.5 649.1,393.3 649.5,393.5 649.9,393.3 650.2,391.7 650.6,391.4 650.9,392.5 651.3,392.6 651.6,392.4 652.0,390.4 652.3,391.0 652.7,390.5 653.1,391.1 653.5,391.5 653.9,390.6 654.2,391.3 654.6,391.2 655.0,391.0 655.4,390.4 655.7,389.7 656.1,389.9 656.4,389.7 656.8,389.5 657.1,390.3 657.5,389.3 657.9,389.1 658.2,389.3 658.6,389.6 658.9,388.4 659.3,388.5 659.6,389.9 660.0,388.8" fill="none" stroke="#18d018" stroke-width="2.2" stroke-linejoin="round" stroke-linecap="round"/>
<polyline points="458.6,391.9 459.0,392.3 459.3,392.0 459.7,392.1 460.0,392.5 460.4,391.9 460.7,392.6 461.1,392.0 461.4,392.3 461.8,392.5 462.1,392.4 462.5,392.3 462.9,391.9 463.3,391.8 463.7,392.2 464.1,392.2 464.5,392.1 464.9,391.7 465.3,391.8 465.7,391.8 466.1,391.5 466.5,392.0 466.9,391.5 467.3,391.6 467.7,392.0 468.1,392.5 468.5,392.3 468.9,393.3 469.3,393.3 469.7,393.8 470.1,394.7 470.5,394.3 470.9,394.8 471.3,396.1 471.7,396.3 472.1,396.0 472.4,395.2 472.8,395.2 473.1,394.4 473.5,393.9 473.9,393.3 474.4,392.9 474.8,392.3 475.2,391.5 475.6,392.0 475.9,391.7 476.3,392.0 476.6,392.3 477.0,392.7 477.4,393.6 477.7,393.5 478.1,394.8 478.4,395.0 478.8,395.7 479.2,396.0 479.6,397.1 480.0,398.1 480.4,397.7 480.7,396.7 481.1,397.1 481.4,396.7 481.8,395.7 482.2,394.9 482.5,395.0 482.9,394.2 483.2,394.3 483.6,393.9 484.0,394.9 484.3,395.1 484.7,396.1 485.0,397.3 485.4,398.1 485.8,398.7 486.2,399.2 486.7,400.2 487.1,401.1 487.5,400.6 487.8,400.6 488.2,400.0 488.5,400.0 488.9,399.3 489.3,399.5 489.6,398.7 490.0,399.2 490.3,398.9 490.7,398.7 491.1,398.9 491.5,399.2 491.9,399.8 492.3,399.4 492.7,400.1 493.1,400.5 493.5,400.5 493.9,400.7 494.3,400.9 494.7,401.0 495.1,401.3 495.5,401.7 495.9,401.5 496.3,401.1 496.6,401.7 497.0,401.0 497.4,400.9 497.8,401.1 498.3,400.9 498.7,400.1 499.2,399.9 499.6,400.0 499.9,400.1 500.2,400.9 500.6,401.7 500.9,400.2 501.3,401.3 501.7,401.7 502.1,401.9 502.4,402.0 502.8,402.3 503.2,402.1 503.6,403.5 503.9,403.1 504.3,402.2 504.7,403.3 505.1,403.6 505.4,403.5 505.8,402.9 506.1,404.3 506.4,403.0 506.8,404.3 507.1,403.8 507.5,404.0 508.0,406.4 508.4,407.9 508.9,408.9 509.2,408.9 509.6,409.7 509.9,410.5 510.3,412.1 510.6,412.6 511.0,412.4 511.5,413.7 511.9,414.8 512.4,417.2 512.8,420.7 513.1,422.8 513.5,422.9 513.9,423.1 514.3,423.4 514.7,423.6 515.1,423.5 515.5,424.4 515.8,424.3 516.2,424.8 516.5,425.4 516.9,424.9 517.2,424.9 517.6,424.7 518.0,426.0 518.4,426.3 518.8,426.3 519.2,427.0 519.6,427.2 520.0,427.0 520.4,427.7 520.8,426.8 521.2,427.6 521.6,428.2 522.0,428.3 522.4,428.7 522.8,428.3 523.1,428.0 523.5,429.2 523.9,428.9 524.2,429.0 524.5,427.9 524.9,429.0 525.2,428.9 525.6,429.0 526.0,429.9 526.4,429.7 526.8,430.8 527.2,429.9 527.6,430.4 528.0,429.7 528.3,430.9 528.7,430.0 529.0,428.8 529.4,430.1 529.7,429.0 530.2,428.5 530.6,428.6 531.1,427.0 531.6,425.2 532.0,424.6 532.5,423.5 532.9,422.3 533.2,422.3 533.5,423.0 533.9,423.4 534.2,421.6 534.6,422.1 535.0,422.4 535.4,422.4 535.8,423.0 536.2,423.2 536.6,422.3 537.0,422.7 537.4,422.8 537.8,423.5 538.2,422.7 538.6,422.3 538.9,421.9 539.3,422.6 539.7,422.8 540.1,422.1 540.5,422.1 540.9,421.9 541.3,422.2 541.7,422.3 542.1,421.0 542.5,420.1 542.9,420.7 543.2,420.4 543.6,420.9 544.0,420.5 544.3,419.2 544.6,419.7 545.0,419.3 545.4,420.1 545.7,418.2 546.1,416.3 546.5,416.6 546.9,415.9 547.2,416.2 547.6,415.2 548.0,413.6 548.3,415.1 548.7,412.4 549.1,412.6 549.4,409.9 549.8,410.8 550.2,408.5 550.5,410.2 550.9,408.4 551.3,407.0 551.6,408.4 552.0,406.4 552.4,406.7 552.7,405.4 553.1,405.5 553.5,404.5 553.8,402.8 554.2,402.1 554.6,400.4 555.0,400.5 555.5,401.0 555.9,399.6 556.3,397.7 556.7,399.5 557.1,399.8 557.6,403.7 558.0,402.1 558.4,400.9 558.7,400.9 559.1,401.7 559.5,406.2 559.8,404.9 560.2,406.4 560.6,405.6 561.0,405.1 561.5,407.2 561.9,409.1 562.3,409.7 562.7,406.8 563.0,407.5 563.4,410.4 563.8,407.9 564.1,413.3 564.5,410.8 564.9,410.2 565.2,409.9 565.6,408.1 566.0,408.0 566.3,403.1 566.7,403.1 567.1,403.6 567.5,408.7 567.9,409.0 568.3,408.6 568.7,409.3 569.1,413.4 569.6,411.8 570.0,415.1 570.4,410.0 570.8,410.1 571.2,408.0 571.6,406.4 572.0,409.4 572.4,411.9 572.8,410.5 573.2,411.9 573.6,412.5 574.0,407.6 574.5,410.0 574.9,408.6 575.3,407.0 575.6,409.9 576.0,409.5 576.3,411.9 576.7,413.9 577.0,411.6 577.4,413.0 577.8,413.2 578.1,413.6 578.5,412.9 578.9,414.0 579.3,410.5 579.6,407.6 580.0,410.0 580.4,408.5 580.7,408.9 581.1,413.2 581.4,412.7 581.8,410.2 582.1,410.6 582.5,413.0 582.9,410.8 583.2,410.2 583.6,412.5 583.9,413.1 584.3,416.7 584.6,414.5 585.0,414.0 585.4,416.8 585.8,412.5 586.2,416.2 586.6,415.9 587.0,416.5 587.4,416.7 587.8,416.0 588.1,416.8 588.5,416.4 588.9,417.4 589.3,420.0 589.7,417.4 590.1,418.9 590.5,417.8 590.9,419.1 591.3,418.5 591.7,418.8 592.1,421.3 592.5,419.1 592.9,417.1 593.2,420.8 593.6,419.1 594.0,420.6 594.4,421.5 594.8,422.8 595.2,419.7 595.6,421.7 596.0,423.3 596.4,421.2 596.8,422.3 597.2,419.6 597.6,418.7 598.0,419.1 598.4,419.8 598.8,419.8 599.2,417.3 599.5,420.7 599.9,422.0 600.2,418.1 600.6,416.9 600.9,421.9 601.3,421.6 601.6,419.9 602.0,421.3 602.3,418.6 602.7,417.6 603.0,416.2 603.4,418.7 603.7,416.3 604.1,416.5 604.4,415.5 604.8,417.6 605.2,418.6 605.5,417.1 605.9,414.5 606.3,418.3 606.7,414.6 607.0,417.3 607.4,419.1 607.8,414.9 608.1,417.4 608.5,415.0 608.9,416.2 609.3,412.7 609.6,412.5 610.0,415.2 610.4,412.4 610.7,412.5 611.1,417.4 611.4,415.7 611.8,416.4 612.1,413.0 612.5,411.4 612.9,411.1 613.2,413.3 613.6,411.1 613.9,412.5 614.3,412.6 614.6,414.8 615.0,412.2 615.4,413.7 615.7,410.9 616.1,410.2 616.4,410.0 616.8,413.3 617.1,413.7 617.5,409.2 617.9,412.3 618.2,412.5 618.6,410.2 618.9,410.8 619.3,410.9 619.6,410.6 620.0,409.3 620.4,410.0 620.7,407.2 621.1,408.7 621.4,411.2 621.8,405.6 622.1,409.6 622.5,405.5 622.9,406.1 623.2,406.7 623.6,410.1 623.9,405.2 624.3,406.9 624.6,409.8 625.0,406.8 625.4,404.2 625.7,407.0 626.1,406.2 626.4,406.7 626.8,404.8 627.1,403.0 627.5,405.1 627.9,403.3 628.2,403.7 628.6,405.4 628.9,407.6 629.3,402.5 629.6,403.4 630.0,404.3 630.4,403.9 630.7,405.9 631.1,401.8 631.4,404.5 631.8,404.2 632.1,404.0 632.5,404.4 632.9,405.3 633.2,405.6 633.6,405.1 633.9,404.7 634.3,404.0 634.6,403.7 635.0,403.3 635.4,404.3 635.7,404.5 636.1,401.0 636.4,405.0 636.8,403.2 637.1,404.6 637.5,401.2 637.9,401.5 638.2,401.4 638.6,401.8 638.9,402.6 639.3,399.6 639.6,399.1 640.0,401.3 640.4,403.8 640.7,400.8 641.1,400.5 641.4,397.9 641.8,402.0 642.1,402.1 642.5,400.1 642.9,401.9 643.2,401.3 643.6,395.9 643.9,397.8 644.3,397.3 644.6,398.8 645.0,397.3 645.4,394.7 645.7,395.9 646.1,394.9 646.4,397.4 646.8,396.5 647.1,396.0 647.5,393.3 647.9,396.3 648.2,396.5 648.6,393.6 648.9,395.3 649.3,395.5 649.6,393.5 650.0,394.3 650.4,393.5 650.7,394.4 651.1,394.1 651.4,394.1 651.8,392.7 652.1,394.4 652.5,395.9 652.9,392.0 653.2,390.5 653.6,390.8 653.9,393.6 654.3,394.9 654.6,393.3 655.0,392.8 655.4,392.9 655.7,394.0 656.1,393.1 656.4,391.6 656.8,394.6 657.1,389.4 657.5,389.9 657.9,389.8 658.2,392.6 658.6,393.6 658.9,392.7 659.3,393.2 659.6,389.9 660.0,390.6" fill="none" stroke="#fb6a1c" stroke-width="2.2" stroke-linejoin="round" stroke-linecap="round"/>
<text x="389.2" y="331.4" font-size="12" fill="#4e5456" text-anchor="end" >50</text>
<text x="389.2" y="356.4" font-size="12" fill="#4e5456" text-anchor="end" >40</text>
<text x="389.2" y="381.3" font-size="12" fill="#4e5456" text-anchor="end" >30</text>
<text x="389.2" y="406.3" font-size="12" fill="#4e5456" text-anchor="end" >20</text>
<text x="389.2" y="430.9" font-size="12" fill="#4e5456" text-anchor="end" >10</text>
<text x="389.2" y="454.0" font-size="12" fill="#4e5456" text-anchor="end" >0</text>
<text x="395.2" y="469.3" font-size="12" fill="#4e5456" text-anchor="middle" >10</text>
<text x="528.0" y="469.3" font-size="12" fill="#4e5456" text-anchor="middle" >100</text>
<text x="656.5" y="469.3" font-size="12" fill="#4e5456" text-anchor="middle" >1000</text>
<text x="474.8" y="490.9" font-size="13.2" fill="#4e5456" textLength="105.2" lengthAdjust="spacingAndGlyphs" >Frequency [MHz]</text>
<text transform="translate(366.4 455.3) rotate(-90)" font-size="13.5" fill="#4e5456" textLength="129.2" lengthAdjust="spacingAndGlyphs">Noise level [dBuV/m]</text>
<text x="396.7" y="318.2" font-size="11.6" fill="#4f5557" textLength="131.5" lengthAdjust="spacingAndGlyphs" >Vertically-polarized wave</text>
<line x1="547" y1="273.0" x2="564.9" y2="273.0" stroke="#8f9292" stroke-width="1.8"/>
<text x="571" y="276.8" font-size="11.6" fill="#7f8484" textLength="70.5" lengthAdjust="spacingAndGlyphs" >No measures</text>
<line x1="547" y1="286.8" x2="564.9" y2="286.8" stroke="#2443ee" stroke-width="1.8"/>
<text x="571" y="290.6" font-size="11.6" fill="#1f44ee" textLength="68.5" lengthAdjust="spacingAndGlyphs" >Measures (1)</text>
<line x1="547" y1="301.9" x2="564.9" y2="301.9" stroke="#12d012" stroke-width="1.8"/>
<text x="571" y="305.5" font-size="11.6" fill="#0fc40f" textLength="68.8" lengthAdjust="spacingAndGlyphs" >Measures (2)</text>
<line x1="547" y1="315.9" x2="564.9" y2="315.9" stroke="#fb6a1c" stroke-width="1.8"/>
<text x="571" y="319.8" font-size="11.6" fill="#f6641c" textLength="89" lengthAdjust="spacingAndGlyphs" >Measures (1)+(2)</text>
<rect x="430" y="334" width="190.3" height="19.8" fill="#fdbf12"/>
<text x="437.5" y="349.3" font-size="15" fill="#434850" textLength="177" lengthAdjust="spacingAndGlyphs" >Improvements of up to 14 dB</text>
<line x1="496" y1="363" x2="496" y2="400" stroke="#e2173f" stroke-width="2.6"/>
<path d="M496,357.6 L500.1,365.2 L491.9,365.2 Z" fill="#e2173f"/>
<path d="M496,405.6 L500.1,398.3 L491.9,398.3 Z" fill="#e2173f"/>
</svg>
</body></html>
